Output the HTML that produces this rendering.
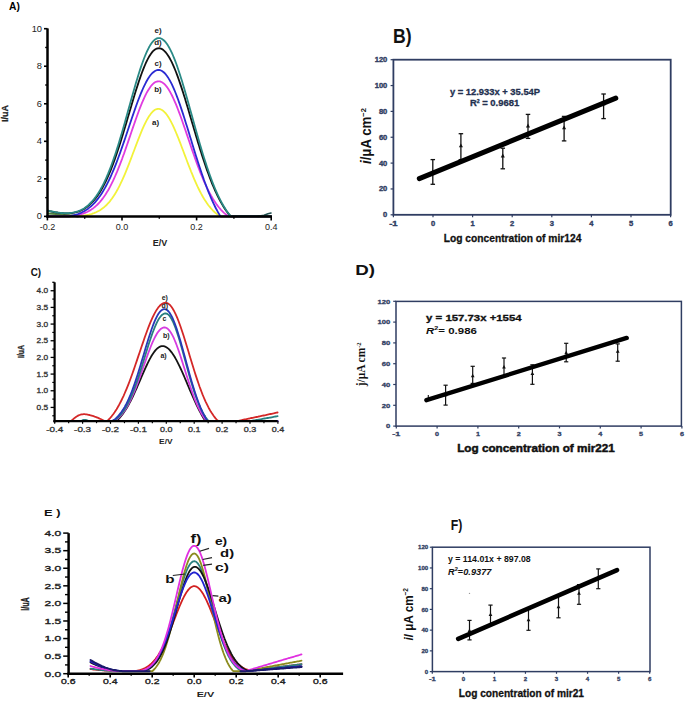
<!DOCTYPE html>
<html><head><meta charset="utf-8"><style>
html,body{margin:0;padding:0;background:#fff;}
body{width:685px;height:701px;overflow:hidden;}
svg{display:block;}
</style></head><body>
<svg width="685" height="701" viewBox="0 0 685 701">
<rect width="685" height="701" fill="#fff"/>
<text x="9.00" y="10.20" font-family="Liberation Sans" font-size="10.40" font-weight="bold" font-style="normal" text-anchor="start" fill="#000" textLength="10.80" lengthAdjust="spacingAndGlyphs" >A)</text>
<polyline points="48.0,213.4 56.0,214.1 64.0,214.9 72.0,215.6 78.0,216.4" fill="none" stroke="#4f7f3f" stroke-width="2.0" stroke-linejoin="round" stroke-linecap="round" />
<polyline points="48.0,216.4 49.0,216.4 50.0,216.4 51.0,216.4 52.0,216.4 53.0,216.4 54.0,216.4 55.0,216.4 56.0,216.4 57.0,216.4 58.0,216.4 59.0,216.4 60.0,216.4 61.0,216.4 62.0,216.4 63.0,216.4 64.0,216.4 65.0,216.4 66.0,216.4 67.0,216.4 68.0,216.4 69.0,216.4 70.0,216.4 71.0,216.3 72.0,216.3 73.0,216.3 74.0,216.2 75.0,216.2 76.0,216.1 77.0,216.1 78.0,216.0 79.0,216.0 80.0,215.9 81.0,215.8 82.0,215.7 83.0,215.6 84.0,215.4 85.0,215.3 86.0,215.1 87.0,215.0 88.0,214.8 89.0,214.6 90.0,214.3 91.0,214.1 92.0,213.8 93.0,213.4 94.0,213.1 95.0,212.7 96.0,212.3 97.0,211.8 98.0,211.3 99.0,210.8 100.0,210.2 101.0,209.5 102.0,208.8 103.0,208.1 104.0,207.3 105.0,206.4 106.0,205.5 107.0,204.5 108.0,203.4 109.0,202.3 110.0,201.1 111.0,199.8 112.0,198.5 113.0,197.0 114.0,195.5 115.0,193.9 116.0,192.3 117.0,190.5 118.0,188.7 119.0,186.8 120.0,184.8 121.0,182.7 122.0,180.6 123.0,178.4 124.0,176.1 125.0,173.8 126.0,171.4 127.0,168.9 128.0,166.4 129.0,163.9 130.0,161.3 131.0,158.6 132.0,156.0 133.0,153.3 134.0,150.7 135.0,148.0 136.0,145.4 137.0,142.7 138.0,140.1 139.0,137.6 140.0,135.1 141.0,132.6 142.0,130.2 143.0,127.9 144.0,125.7 145.0,123.6 146.0,121.6 147.0,119.7 148.0,118.0 149.0,116.3 150.0,114.9 151.0,113.5 152.0,112.3 153.0,111.3 154.0,110.5 155.0,109.8 156.0,109.3 157.0,109.0 158.0,108.9 159.0,108.9 160.0,109.1 161.0,109.5 162.0,110.0 163.0,110.7 164.0,111.6 165.0,112.6 166.0,113.7 167.0,115.1 168.0,116.5 169.0,118.1 170.0,119.8 171.0,121.7 172.0,123.7 173.0,125.7 174.0,127.9 175.0,130.1 176.0,132.5 177.0,134.9 178.0,137.3 179.0,139.9 180.0,142.4 181.0,145.0 182.0,147.7 183.0,150.3 184.0,153.0 185.0,155.6 186.0,158.3 187.0,161.0 188.0,163.6 189.0,166.2 190.0,168.7 191.0,171.3 192.0,173.7 193.0,176.2 194.0,178.6 195.0,180.9 196.0,183.1 197.0,185.3 198.0,187.5 199.0,189.5 200.0,191.5 201.0,193.4 202.0,195.2 203.0,197.0 204.0,198.7 205.0,200.3 206.0,201.8 207.0,203.3 208.0,204.7 209.0,206.0 210.0,207.2 211.0,208.4 212.0,209.5 213.0,210.6 214.0,211.5 215.0,212.5 216.0,213.3 217.0,214.1 218.0,214.9 219.0,215.6 220.0,216.2 221.0,216.4 222.0,216.4 223.0,216.4 224.0,216.4 225.0,216.4 226.0,216.4 227.0,216.4 228.0,216.4 229.0,216.4 230.0,216.4 231.0,216.4 232.0,216.4 233.0,216.4 234.0,216.4 235.0,216.4 236.0,216.4 237.0,216.4 238.0,216.4 239.0,216.4 240.0,216.4 241.0,216.4 242.0,216.4 243.0,216.4 244.0,216.4 245.0,216.4 246.0,216.4 247.0,216.4 248.0,216.4 249.0,216.4 250.0,216.4 251.0,216.4 252.0,216.4 253.0,216.4 254.0,216.4 255.0,216.4 256.0,216.4 257.0,216.4 258.0,216.4 259.0,216.4 260.0,216.4 261.0,216.4 262.0,216.4 263.0,216.4 264.0,216.4 265.0,216.4 266.0,216.4 267.0,216.4 268.0,216.4 269.0,216.4 270.0,216.4 271.0,216.4" fill="none" stroke="#f2f23a" stroke-width="1.8" stroke-linejoin="round" stroke-linecap="round" />
<polyline points="48.0,216.4 49.0,216.4 50.0,216.4 51.0,216.4 52.0,216.4 53.0,216.4 54.0,216.4 55.0,216.4 56.0,216.4 57.0,216.4 58.0,216.4 59.0,216.4 60.0,216.4 61.0,216.4 62.0,216.4 63.0,216.4 64.0,216.4 65.0,216.4 66.0,216.4 67.0,216.4 68.0,216.4 69.0,216.4 70.0,216.3 71.0,216.1 72.0,216.0 73.0,215.9 74.0,215.7 75.0,215.6 76.0,215.4 77.0,215.2 78.0,215.0 79.0,214.8 80.0,214.5 81.0,214.2 82.0,213.9 83.0,213.6 84.0,213.2 85.0,212.8 86.0,212.4 87.0,212.0 88.0,211.5 89.0,210.9 90.0,210.4 91.0,209.7 92.0,209.1 93.0,208.4 94.0,207.6 95.0,206.8 96.0,205.9 97.0,205.0 98.0,204.0 99.0,203.0 100.0,201.9 101.0,200.7 102.0,199.4 103.0,198.1 104.0,196.7 105.0,195.3 106.0,193.7 107.0,192.1 108.0,190.5 109.0,188.7 110.0,186.9 111.0,184.9 112.0,182.9 113.0,180.9 114.0,178.7 115.0,176.5 116.0,174.2 117.0,171.9 118.0,169.4 119.0,166.9 120.0,164.4 121.0,161.7 122.0,159.1 123.0,156.3 124.0,153.6 125.0,150.7 126.0,147.9 127.0,145.0 128.0,142.1 129.0,139.1 130.0,136.2 131.0,133.3 132.0,130.3 133.0,127.4 134.0,124.5 135.0,121.6 136.0,118.8 137.0,116.0 138.0,113.2 139.0,110.5 140.0,107.9 141.0,105.4 142.0,102.9 143.0,100.6 144.0,98.3 145.0,96.2 146.0,94.1 147.0,92.2 148.0,90.5 149.0,88.9 150.0,87.4 151.0,86.0 152.0,84.9 153.0,83.9 154.0,83.0 155.0,82.3 156.0,81.8 157.0,81.5 158.0,81.3 159.0,81.3 160.0,81.4 161.0,81.8 162.0,82.3 163.0,82.9 164.0,83.7 165.0,84.7 166.0,85.8 167.0,87.1 168.0,88.5 169.0,90.1 170.0,91.8 171.0,93.6 172.0,95.5 173.0,97.6 174.0,99.8 175.0,102.1 176.0,104.4 177.0,106.9 178.0,109.5 179.0,112.1 180.0,114.8 181.0,117.5 182.0,120.3 183.0,123.2 184.0,126.1 185.0,129.0 186.0,131.9 187.0,134.9 188.0,137.8 189.0,140.8 190.0,143.7 191.0,146.7 192.0,149.6 193.0,152.5 194.0,155.3 195.0,158.1 196.0,160.9 197.0,163.7 198.0,166.4 199.0,169.0 200.0,171.6 201.0,174.1 202.0,176.5 203.0,178.9 204.0,181.3 205.0,183.5 206.0,185.7 207.0,187.8 208.0,189.8 209.0,191.8 210.0,193.7 211.0,195.5 212.0,197.2 213.0,198.9 214.0,200.5 215.0,202.0 216.0,203.5 217.0,204.9 218.0,206.2 219.0,207.5 220.0,208.6 221.0,209.8 222.0,210.8 223.0,211.8 224.0,212.8 225.0,213.7 226.0,214.5 227.0,215.3 228.0,216.0 229.0,216.4 230.0,216.4 231.0,216.4 232.0,216.4 233.0,216.4 234.0,216.4 235.0,216.4 236.0,216.4 237.0,216.4 238.0,216.4 239.0,216.4 240.0,216.4 241.0,216.4 242.0,216.4 243.0,216.4 244.0,216.4 245.0,216.4 246.0,216.4 247.0,216.4 248.0,216.4 249.0,216.4 250.0,216.4 251.0,216.4 252.0,216.4 253.0,216.4 254.0,216.4 255.0,216.4 256.0,216.4 257.0,216.4 258.0,216.4 259.0,216.4 260.0,216.4 261.0,216.4 262.0,216.4 263.0,216.4 264.0,216.4 265.0,216.4 266.0,216.4 267.0,216.4 268.0,216.4 269.0,216.4 270.0,216.4 271.0,216.4" fill="none" stroke="#e03ce0" stroke-width="1.8" stroke-linejoin="round" stroke-linecap="round" />
<polyline points="48.0,216.4 49.0,216.4 50.0,216.4 51.0,216.4 52.0,216.4 53.0,216.4 54.0,216.4 55.0,216.4 56.0,216.4 57.0,216.4 58.0,216.4 59.0,216.4 60.0,216.4 61.0,216.4 62.0,216.4 63.0,216.4 64.0,216.4 65.0,216.4 66.0,216.4 67.0,216.4 68.0,216.4 69.0,216.3 70.0,216.1 71.0,215.9 72.0,215.7 73.0,215.5 74.0,215.2 75.0,215.0 76.0,214.7 77.0,214.3 78.0,214.0 79.0,213.6 80.0,213.2 81.0,212.8 82.0,212.3 83.0,211.8 84.0,211.3 85.0,210.7 86.0,210.1 87.0,209.4 88.0,208.7 89.0,207.9 90.0,207.1 91.0,206.3 92.0,205.4 93.0,204.4 94.0,203.4 95.0,202.3 96.0,201.1 97.0,199.9 98.0,198.7 99.0,197.3 100.0,195.9 101.0,194.5 102.0,192.9 103.0,191.3 104.0,189.6 105.0,187.9 106.0,186.0 107.0,184.1 108.0,182.1 109.0,180.1 110.0,178.0 111.0,175.8 112.0,173.5 113.0,171.2 114.0,168.8 115.0,166.3 116.0,163.8 117.0,161.2 118.0,158.5 119.0,155.8 120.0,153.1 121.0,150.3 122.0,147.4 123.0,144.5 124.0,141.6 125.0,138.7 126.0,135.7 127.0,132.7 128.0,129.7 129.0,126.8 130.0,123.8 131.0,120.8 132.0,117.8 133.0,114.9 134.0,112.0 135.0,109.1 136.0,106.3 137.0,103.5 138.0,100.8 139.0,98.2 140.0,95.6 141.0,93.2 142.0,90.8 143.0,88.5 144.0,86.3 145.0,84.3 146.0,82.3 147.0,80.5 148.0,78.8 149.0,77.2 150.0,75.8 151.0,74.5 152.0,73.4 153.0,72.5 154.0,71.7 155.0,71.0 156.0,70.5 157.0,70.2 158.0,70.0 159.0,70.0 160.0,70.2 161.0,70.5 162.0,71.0 163.0,71.7 164.0,72.5 165.0,73.5 166.0,74.7 167.0,76.0 168.0,77.4 169.0,79.1 170.0,80.8 171.0,82.7 172.0,84.7 173.0,86.9 174.0,89.1 175.0,91.5 176.0,94.0 177.0,96.6 178.0,99.3 179.0,102.1 180.0,104.9 181.0,107.9 182.0,110.9 183.0,113.9 184.0,117.0 185.0,120.2 186.0,123.4 187.0,126.6 188.0,129.8 189.0,133.1 190.0,136.4 191.0,139.6 192.0,142.9 193.0,146.2 194.0,149.4 195.0,152.7 196.0,155.9 197.0,159.0 198.0,162.2 199.0,165.3 200.0,168.3 201.0,171.3 202.0,174.2 203.0,177.1 204.0,180.0 205.0,182.7 206.0,185.4 207.0,188.0 208.0,190.6 209.0,193.1 210.0,195.5 211.0,197.9 212.0,200.1 213.0,202.3 214.0,204.4 215.0,206.5 216.0,208.5 217.0,210.3 218.0,212.2 219.0,213.9 220.0,215.6 221.0,216.4 222.0,216.4 223.0,216.4 224.0,216.4 225.0,216.4 226.0,216.4 227.0,216.4 228.0,216.4 229.0,216.4 230.0,216.4 231.0,216.4 232.0,216.4 233.0,216.4 234.0,216.4 235.0,216.4 236.0,216.4 237.0,216.4 238.0,216.4 239.0,216.4 240.0,216.4 241.0,216.4 242.0,216.4 243.0,216.4 244.0,216.4 245.0,216.4 246.0,216.4 247.0,216.4 248.0,216.4 249.0,216.4 250.0,216.4 251.0,216.4 252.0,216.4 253.0,216.4 254.0,216.4 255.0,216.4 256.0,216.4 257.0,216.4 258.0,216.4 259.0,216.4 260.0,216.4 261.0,216.4 262.0,216.4 263.0,216.4 264.0,216.4 265.0,216.4 266.0,216.4 267.0,216.4 268.0,216.4 269.0,216.4 270.0,216.4 271.0,216.4" fill="none" stroke="#2a2ad2" stroke-width="1.8" stroke-linejoin="round" stroke-linecap="round" />
<polyline points="48.0,210.6 49.0,210.8 50.0,211.1 51.0,211.3 52.0,211.6 53.0,211.8 54.0,212.0 55.0,212.2 56.0,212.3 57.0,212.5 58.0,212.7 59.0,212.8 60.0,212.9 61.0,213.0 62.0,213.1 63.0,213.2 64.0,213.3 65.0,213.3 66.0,213.3 67.0,213.3 68.0,213.3 69.0,213.3 70.0,213.2 71.0,213.1 72.0,213.0 73.0,212.8 74.0,212.7 75.0,212.5 76.0,212.2 77.0,212.0 78.0,211.6 79.0,211.3 80.0,210.9 81.0,210.5 82.0,210.0 83.0,209.5 84.0,208.9 85.0,208.3 86.0,207.6 87.0,206.9 88.0,206.1 89.0,205.3 90.0,204.4 91.0,203.4 92.0,202.4 93.0,201.4 94.0,200.2 95.0,199.0 96.0,197.7 97.0,196.4 98.0,195.0 99.0,193.5 100.0,191.9 101.0,190.3 102.0,188.5 103.0,186.7 104.0,184.8 105.0,182.9 106.0,180.8 107.0,178.7 108.0,176.5 109.0,174.2 110.0,171.8 111.0,169.3 112.0,166.7 113.0,164.1 114.0,161.4 115.0,158.6 116.0,155.7 117.0,152.8 118.0,149.8 119.0,146.7 120.0,143.6 121.0,140.4 122.0,137.2 123.0,133.9 124.0,130.6 125.0,127.3 126.0,123.9 127.0,120.5 128.0,117.1 129.0,113.7 130.0,110.3 131.0,106.9 132.0,103.5 133.0,100.2 134.0,96.8 135.0,93.6 136.0,90.3 137.0,87.2 138.0,84.1 139.0,81.0 140.0,78.1 141.0,75.3 142.0,72.5 143.0,69.9 144.0,67.4 145.0,65.0 146.0,62.7 147.0,60.6 148.0,58.7 149.0,56.8 150.0,55.2 151.0,53.7 152.0,52.4 153.0,51.2 154.0,50.3 155.0,49.5 156.0,48.9 157.0,48.5 158.0,48.3 159.0,48.2 160.0,48.4 161.0,48.7 162.0,49.1 163.0,49.8 164.0,50.6 165.0,51.6 166.0,52.7 167.0,54.0 168.0,55.4 169.0,57.0 170.0,58.8 171.0,60.7 172.0,62.7 173.0,64.8 174.0,67.1 175.0,69.5 176.0,72.0 177.0,74.6 178.0,77.4 179.0,80.2 180.0,83.1 181.0,86.1 182.0,89.1 183.0,92.2 184.0,95.4 185.0,98.6 186.0,101.9 187.0,105.2 188.0,108.6 189.0,112.0 190.0,115.4 191.0,118.8 192.0,122.2 193.0,125.6 194.0,129.0 195.0,132.3 196.0,135.7 197.0,139.0 198.0,142.4 199.0,145.6 200.0,148.9 201.0,152.0 202.0,155.2 203.0,158.3 204.0,161.3 205.0,164.3 206.0,167.2 207.0,170.1 208.0,172.8 209.0,175.5 210.0,178.2 211.0,180.8 212.0,183.3 213.0,185.7 214.0,188.0 215.0,190.3 216.0,192.5 217.0,194.6 218.0,196.7 219.0,198.6 220.0,200.5 221.0,202.4 222.0,204.1 223.0,205.8 224.0,207.4 225.0,208.9 226.0,210.4 227.0,211.8 228.0,213.1 229.0,214.4 230.0,215.6 231.0,216.4 232.0,216.4 233.0,216.4 234.0,216.4 235.0,216.4 236.0,216.4 237.0,216.4 238.0,216.4 239.0,216.4 240.0,216.4 241.0,216.4 242.0,216.4 243.0,216.4 244.0,216.4 245.0,216.4 246.0,216.4 247.0,216.4 248.0,216.4 249.0,216.4 250.0,216.4 251.0,216.4 252.0,216.4 253.0,216.4 254.0,216.4 255.0,216.4 256.0,216.4 257.0,216.4 258.0,216.4 259.0,216.4 260.0,216.4 261.0,216.4 262.0,216.4 263.0,216.4 264.0,216.4 265.0,216.4 266.0,216.4 267.0,216.4 268.0,216.4 269.0,216.4 270.0,216.4 271.0,216.4" fill="none" stroke="#111111" stroke-width="1.8" stroke-linejoin="round" stroke-linecap="round" />
<polyline points="48.0,210.6 49.0,210.8 50.0,211.1 51.0,211.3 52.0,211.5 53.0,211.7 54.0,211.9 55.0,212.1 56.0,212.3 57.0,212.5 58.0,212.6 59.0,212.7 60.0,212.9 61.0,213.0 62.0,213.0 63.0,213.1 64.0,213.2 65.0,213.2 66.0,213.2 67.0,213.2 68.0,213.2 69.0,213.1 70.0,213.0 71.0,212.9 72.0,212.8 73.0,212.6 74.0,212.4 75.0,212.2 76.0,211.9 77.0,211.6 78.0,211.3 79.0,210.9 80.0,210.5 81.0,210.1 82.0,209.5 83.0,209.0 84.0,208.4 85.0,207.7 86.0,207.0 87.0,206.2 88.0,205.4 89.0,204.5 90.0,203.5 91.0,202.5 92.0,201.5 93.0,200.3 94.0,199.1 95.0,197.8 96.0,196.5 97.0,195.0 98.0,193.5 99.0,191.9 100.0,190.3 101.0,188.5 102.0,186.7 103.0,184.8 104.0,182.8 105.0,180.7 106.0,178.5 107.0,176.2 108.0,173.9 109.0,171.4 110.0,168.9 111.0,166.3 112.0,163.6 113.0,160.8 114.0,157.9 115.0,155.0 116.0,152.0 117.0,148.9 118.0,145.7 119.0,142.4 120.0,139.1 121.0,135.8 122.0,132.4 123.0,128.9 124.0,125.4 125.0,121.9 126.0,118.3 127.0,114.7 128.0,111.1 129.0,107.5 130.0,103.9 131.0,100.3 132.0,96.8 133.0,93.2 134.0,89.7 135.0,86.2 136.0,82.8 137.0,79.5 138.0,76.2 139.0,73.0 140.0,69.9 141.0,66.9 142.0,64.0 143.0,61.2 144.0,58.5 145.0,56.0 146.0,53.6 147.0,51.4 148.0,49.3 149.0,47.3 150.0,45.6 151.0,44.0 152.0,42.6 153.0,41.4 154.0,40.4 155.0,39.5 156.0,38.9 157.0,38.4 158.0,38.1 159.0,38.1 160.0,38.2 161.0,38.5 162.0,39.0 163.0,39.7 164.0,40.5 165.0,41.5 166.0,42.7 167.0,44.1 168.0,45.6 169.0,47.3 170.0,49.1 171.0,51.1 172.0,53.2 173.0,55.5 174.0,57.9 175.0,60.4 176.0,63.0 177.0,65.8 178.0,68.7 179.0,71.7 180.0,74.7 181.0,77.9 182.0,81.1 183.0,84.4 184.0,87.8 185.0,91.2 186.0,94.7 187.0,98.2 188.0,101.7 189.0,105.3 190.0,108.9 191.0,112.5 192.0,116.1 193.0,119.7 194.0,123.3 195.0,126.9 196.0,130.5 197.0,134.0 198.0,137.5 199.0,141.0 200.0,144.4 201.0,147.8 202.0,151.2 203.0,154.5 204.0,157.7 205.0,160.8 206.0,163.9 207.0,167.0 208.0,169.9 209.0,172.8 210.0,175.6 211.0,178.3 212.0,181.0 213.0,183.6 214.0,186.1 215.0,188.5 216.0,190.8 217.0,193.1 218.0,195.3 219.0,197.4 220.0,199.4 221.0,201.3 222.0,203.2 223.0,205.0 224.0,206.7 225.0,208.3 226.0,209.9 227.0,211.4 228.0,212.8 229.0,214.1 230.0,215.4 231.0,216.4 232.0,216.4 233.0,216.4 234.0,216.4 235.0,216.4 236.0,216.4 237.0,216.4 238.0,216.4 239.0,216.4 240.0,216.4 241.0,216.4 242.0,216.4 243.0,216.4 244.0,216.4 245.0,216.4 246.0,216.4 247.0,216.4 248.0,216.4 249.0,216.4 250.0,216.4 251.0,216.4 252.0,216.4 253.0,216.4 254.0,216.4 255.0,216.4 256.0,216.4 257.0,216.4 258.0,216.4 259.0,216.4 260.0,216.4 261.0,216.4 262.0,216.4 263.0,216.4 264.0,216.4 265.0,216.4 266.0,216.4 267.0,216.4 268.0,216.4 269.0,216.4 270.0,216.4 271.0,216.4" fill="none" stroke="#2a8a86" stroke-width="1.8" stroke-linejoin="round" stroke-linecap="round" />
<polyline points="258.0,216.4 264.0,215.3 268.0,213.8 271.0,213.0" fill="none" stroke="#1f4f4f" stroke-width="1.6" stroke-linejoin="round" stroke-linecap="round" />
<line x1="47.50" y1="28.40" x2="47.50" y2="217.60" stroke="#000" stroke-width="2.5" stroke-linecap="butt"/>
<line x1="46.30" y1="216.40" x2="271.90" y2="216.40" stroke="#000" stroke-width="2.5" stroke-linecap="butt"/>
<line x1="44.00" y1="216.40" x2="47.50" y2="216.40" stroke="#000" stroke-width="1.6" stroke-linecap="butt"/>
<text x="42.00" y="219.30" font-family="Liberation Sans" font-size="9.30" font-weight="normal" font-style="normal" text-anchor="end" fill="#222" >0</text>
<line x1="45.20" y1="197.63" x2="47.50" y2="197.63" stroke="#000" stroke-width="1.4" stroke-linecap="butt"/>
<line x1="44.00" y1="178.86" x2="47.50" y2="178.86" stroke="#000" stroke-width="1.6" stroke-linecap="butt"/>
<text x="42.00" y="181.76" font-family="Liberation Sans" font-size="9.30" font-weight="normal" font-style="normal" text-anchor="end" fill="#222" >2</text>
<line x1="45.20" y1="160.09" x2="47.50" y2="160.09" stroke="#000" stroke-width="1.4" stroke-linecap="butt"/>
<line x1="44.00" y1="141.32" x2="47.50" y2="141.32" stroke="#000" stroke-width="1.6" stroke-linecap="butt"/>
<text x="42.00" y="144.22" font-family="Liberation Sans" font-size="9.30" font-weight="normal" font-style="normal" text-anchor="end" fill="#222" >4</text>
<line x1="45.20" y1="122.55" x2="47.50" y2="122.55" stroke="#000" stroke-width="1.4" stroke-linecap="butt"/>
<line x1="44.00" y1="103.78" x2="47.50" y2="103.78" stroke="#000" stroke-width="1.6" stroke-linecap="butt"/>
<text x="42.00" y="106.68" font-family="Liberation Sans" font-size="9.30" font-weight="normal" font-style="normal" text-anchor="end" fill="#222" >6</text>
<line x1="45.20" y1="85.01" x2="47.50" y2="85.01" stroke="#000" stroke-width="1.4" stroke-linecap="butt"/>
<line x1="44.00" y1="66.24" x2="47.50" y2="66.24" stroke="#000" stroke-width="1.6" stroke-linecap="butt"/>
<text x="42.00" y="69.14" font-family="Liberation Sans" font-size="9.30" font-weight="normal" font-style="normal" text-anchor="end" fill="#222" >8</text>
<line x1="45.20" y1="47.47" x2="47.50" y2="47.47" stroke="#000" stroke-width="1.4" stroke-linecap="butt"/>
<line x1="44.00" y1="28.70" x2="47.50" y2="28.70" stroke="#000" stroke-width="1.6" stroke-linecap="butt"/>
<text x="42.00" y="31.60" font-family="Liberation Sans" font-size="9.30" font-weight="normal" font-style="normal" text-anchor="end" fill="#222" >10</text>
<line x1="47.40" y1="216.40" x2="47.40" y2="220.40" stroke="#000" stroke-width="1.6" stroke-linecap="butt"/>
<text x="47.40" y="230.10" font-family="Liberation Sans" font-size="9.00" font-weight="normal" font-style="normal" text-anchor="middle" fill="#222" >-0.2</text>
<line x1="84.70" y1="216.40" x2="84.70" y2="218.70" stroke="#000" stroke-width="1.4" stroke-linecap="butt"/>
<line x1="122.00" y1="216.40" x2="122.00" y2="220.40" stroke="#000" stroke-width="1.6" stroke-linecap="butt"/>
<text x="122.00" y="230.10" font-family="Liberation Sans" font-size="9.00" font-weight="normal" font-style="normal" text-anchor="middle" fill="#222" >0.0</text>
<line x1="159.30" y1="216.40" x2="159.30" y2="218.70" stroke="#000" stroke-width="1.4" stroke-linecap="butt"/>
<line x1="196.60" y1="216.40" x2="196.60" y2="220.40" stroke="#000" stroke-width="1.6" stroke-linecap="butt"/>
<text x="196.60" y="230.10" font-family="Liberation Sans" font-size="9.00" font-weight="normal" font-style="normal" text-anchor="middle" fill="#222" >0.2</text>
<line x1="233.90" y1="216.40" x2="233.90" y2="218.70" stroke="#000" stroke-width="1.4" stroke-linecap="butt"/>
<line x1="271.20" y1="216.40" x2="271.20" y2="220.40" stroke="#000" stroke-width="1.6" stroke-linecap="butt"/>
<text x="271.20" y="230.10" font-family="Liberation Sans" font-size="9.00" font-weight="normal" font-style="normal" text-anchor="middle" fill="#222" >0.4</text>
<text x="160.00" y="245.80" font-family="Liberation Sans" font-size="9.00" font-weight="bold" font-style="normal" text-anchor="middle" fill="#222" >E/V</text>
<g transform="translate(7.9,113.6) rotate(-90)">
<text x="0.00" y="0.00" font-family="Liberation Sans" font-size="9.00" font-weight="bold" font-style="normal" text-anchor="middle" fill="#222" textLength="17.00" lengthAdjust="spacingAndGlyphs" stroke="#222" stroke-width="0.3">I/uA</text>
</g>
<text x="158.00" y="32.60" font-family="Liberation Sans" font-size="8.00" font-weight="bold" font-style="normal" text-anchor="middle" fill="#222" >e)</text>
<text x="158.00" y="44.60" font-family="Liberation Sans" font-size="8.00" font-weight="bold" font-style="normal" text-anchor="middle" fill="#222" >d)</text>
<text x="158.00" y="66.40" font-family="Liberation Sans" font-size="8.00" font-weight="bold" font-style="normal" text-anchor="middle" fill="#222" >c)</text>
<text x="158.00" y="91.60" font-family="Liberation Sans" font-size="8.00" font-weight="bold" font-style="normal" text-anchor="middle" fill="#222" >b)</text>
<text x="155.50" y="125.40" font-family="Liberation Sans" font-size="8.00" font-weight="bold" font-style="normal" text-anchor="middle" fill="#222" >a)</text>
<text x="393.00" y="43.00" font-family="Liberation Sans" font-size="19.50" font-weight="bold" font-style="normal" text-anchor="start" fill="#111" textLength="18.60" lengthAdjust="spacingAndGlyphs" >B)</text>
<rect x="393.4" y="59.7" width="277.3" height="155.1" fill="none" stroke="#2f3d62" stroke-width="1.8"/>
<line x1="390.60" y1="214.80" x2="393.40" y2="214.80" stroke="#2f3d62" stroke-width="1.2" stroke-linecap="butt"/>
<text x="387.30" y="217.20" font-family="Liberation Sans" font-size="6.80" font-weight="bold" font-style="normal" text-anchor="end" fill="#2f3d62" textLength="4.20" lengthAdjust="spacingAndGlyphs" stroke="#2f3d62" stroke-width="0.35">0</text>
<line x1="390.60" y1="188.95" x2="393.40" y2="188.95" stroke="#2f3d62" stroke-width="1.2" stroke-linecap="butt"/>
<text x="387.30" y="191.35" font-family="Liberation Sans" font-size="6.80" font-weight="bold" font-style="normal" text-anchor="end" fill="#2f3d62" textLength="8.40" lengthAdjust="spacingAndGlyphs" stroke="#2f3d62" stroke-width="0.35">20</text>
<line x1="390.60" y1="163.10" x2="393.40" y2="163.10" stroke="#2f3d62" stroke-width="1.2" stroke-linecap="butt"/>
<text x="387.30" y="165.50" font-family="Liberation Sans" font-size="6.80" font-weight="bold" font-style="normal" text-anchor="end" fill="#2f3d62" textLength="8.40" lengthAdjust="spacingAndGlyphs" stroke="#2f3d62" stroke-width="0.35">40</text>
<line x1="390.60" y1="137.25" x2="393.40" y2="137.25" stroke="#2f3d62" stroke-width="1.2" stroke-linecap="butt"/>
<text x="387.30" y="139.65" font-family="Liberation Sans" font-size="6.80" font-weight="bold" font-style="normal" text-anchor="end" fill="#2f3d62" textLength="8.40" lengthAdjust="spacingAndGlyphs" stroke="#2f3d62" stroke-width="0.35">60</text>
<line x1="390.60" y1="111.40" x2="393.40" y2="111.40" stroke="#2f3d62" stroke-width="1.2" stroke-linecap="butt"/>
<text x="387.30" y="113.80" font-family="Liberation Sans" font-size="6.80" font-weight="bold" font-style="normal" text-anchor="end" fill="#2f3d62" textLength="8.40" lengthAdjust="spacingAndGlyphs" stroke="#2f3d62" stroke-width="0.35">80</text>
<line x1="390.60" y1="85.55" x2="393.40" y2="85.55" stroke="#2f3d62" stroke-width="1.2" stroke-linecap="butt"/>
<text x="387.30" y="87.95" font-family="Liberation Sans" font-size="6.80" font-weight="bold" font-style="normal" text-anchor="end" fill="#2f3d62" textLength="12.60" lengthAdjust="spacingAndGlyphs" stroke="#2f3d62" stroke-width="0.35">100</text>
<line x1="390.60" y1="59.70" x2="393.40" y2="59.70" stroke="#2f3d62" stroke-width="1.2" stroke-linecap="butt"/>
<text x="387.30" y="62.10" font-family="Liberation Sans" font-size="6.80" font-weight="bold" font-style="normal" text-anchor="end" fill="#2f3d62" textLength="12.60" lengthAdjust="spacingAndGlyphs" stroke="#2f3d62" stroke-width="0.35">120</text>
<line x1="393.40" y1="214.80" x2="393.40" y2="217.20" stroke="#2f3d62" stroke-width="1.2" stroke-linecap="butt"/>
<text x="393.40" y="226.00" font-family="Liberation Sans" font-size="6.80" font-weight="bold" font-style="normal" text-anchor="middle" fill="#2f3d62" textLength="8.40" lengthAdjust="spacingAndGlyphs" stroke="#2f3d62" stroke-width="0.35">-1</text>
<line x1="433.00" y1="214.80" x2="433.00" y2="217.20" stroke="#2f3d62" stroke-width="1.2" stroke-linecap="butt"/>
<text x="433.00" y="226.00" font-family="Liberation Sans" font-size="6.80" font-weight="bold" font-style="normal" text-anchor="middle" fill="#2f3d62" textLength="4.20" lengthAdjust="spacingAndGlyphs" stroke="#2f3d62" stroke-width="0.35">0</text>
<line x1="472.60" y1="214.80" x2="472.60" y2="217.20" stroke="#2f3d62" stroke-width="1.2" stroke-linecap="butt"/>
<text x="472.60" y="226.00" font-family="Liberation Sans" font-size="6.80" font-weight="bold" font-style="normal" text-anchor="middle" fill="#2f3d62" textLength="4.20" lengthAdjust="spacingAndGlyphs" stroke="#2f3d62" stroke-width="0.35">1</text>
<line x1="512.20" y1="214.80" x2="512.20" y2="217.20" stroke="#2f3d62" stroke-width="1.2" stroke-linecap="butt"/>
<text x="512.20" y="226.00" font-family="Liberation Sans" font-size="6.80" font-weight="bold" font-style="normal" text-anchor="middle" fill="#2f3d62" textLength="4.20" lengthAdjust="spacingAndGlyphs" stroke="#2f3d62" stroke-width="0.35">2</text>
<line x1="551.80" y1="214.80" x2="551.80" y2="217.20" stroke="#2f3d62" stroke-width="1.2" stroke-linecap="butt"/>
<text x="551.80" y="226.00" font-family="Liberation Sans" font-size="6.80" font-weight="bold" font-style="normal" text-anchor="middle" fill="#2f3d62" textLength="4.20" lengthAdjust="spacingAndGlyphs" stroke="#2f3d62" stroke-width="0.35">3</text>
<line x1="591.40" y1="214.80" x2="591.40" y2="217.20" stroke="#2f3d62" stroke-width="1.2" stroke-linecap="butt"/>
<text x="591.40" y="226.00" font-family="Liberation Sans" font-size="6.80" font-weight="bold" font-style="normal" text-anchor="middle" fill="#2f3d62" textLength="4.20" lengthAdjust="spacingAndGlyphs" stroke="#2f3d62" stroke-width="0.35">4</text>
<line x1="631.00" y1="214.80" x2="631.00" y2="217.20" stroke="#2f3d62" stroke-width="1.2" stroke-linecap="butt"/>
<text x="631.00" y="226.00" font-family="Liberation Sans" font-size="6.80" font-weight="bold" font-style="normal" text-anchor="middle" fill="#2f3d62" textLength="4.20" lengthAdjust="spacingAndGlyphs" stroke="#2f3d62" stroke-width="0.35">5</text>
<line x1="670.60" y1="214.80" x2="670.60" y2="217.20" stroke="#2f3d62" stroke-width="1.2" stroke-linecap="butt"/>
<text x="670.60" y="226.00" font-family="Liberation Sans" font-size="6.80" font-weight="bold" font-style="normal" text-anchor="middle" fill="#2f3d62" textLength="4.20" lengthAdjust="spacingAndGlyphs" stroke="#2f3d62" stroke-width="0.35">6</text>
<text x="443.70" y="242.20" font-family="Liberation Sans" font-size="11.20" font-weight="bold" font-style="normal" text-anchor="start" fill="#111" textLength="137.70" lengthAdjust="spacingAndGlyphs" stroke="#111" stroke-width="0.3">Log concentration of mir124</text>
<g transform="translate(371.2,136) rotate(-90)">
<text x="0" y="0" font-family="Liberation Sans" font-size="14" font-weight="bold" text-anchor="middle" fill="#111" textLength="56" lengthAdjust="spacingAndGlyphs"><tspan font-style="italic">i</tspan>/μA cm<tspan font-size="8" dy="-5">−2</tspan></text>
</g>
<text x="449.90" y="94.90" font-family="Liberation Sans" font-size="9.20" font-weight="bold" font-style="normal" text-anchor="start" fill="#23304f" textLength="90.20" lengthAdjust="spacingAndGlyphs" stroke="#23304f" stroke-width="0.3">y = 12.933x + 35.54P</text>
<text x="469.9" y="106.2" font-family="Liberation Sans" font-size="9.2" font-weight="bold" fill="#23304f" stroke="#23304f" stroke-width="0.3" textLength="49.3" lengthAdjust="spacingAndGlyphs">R<tspan font-size="5" dy="-3.5">2</tspan><tspan dy="3.5"> = 0.9681</tspan></text>
<line x1="432.80" y1="159.60" x2="432.80" y2="184.30" stroke="#111" stroke-width="1.3" stroke-linecap="butt"/>
<line x1="430.55" y1="159.60" x2="435.05" y2="159.60" stroke="#111" stroke-width="1.3" stroke-linecap="butt"/>
<line x1="430.55" y1="184.30" x2="435.05" y2="184.30" stroke="#111" stroke-width="1.3" stroke-linecap="butt"/>
<polygon points="432.80,169.60 430.76,173.44 434.84,173.44" fill="#111"/>
<line x1="460.90" y1="133.70" x2="460.90" y2="159.60" stroke="#111" stroke-width="1.3" stroke-linecap="butt"/>
<line x1="458.65" y1="133.70" x2="463.15" y2="133.70" stroke="#111" stroke-width="1.3" stroke-linecap="butt"/>
<line x1="458.65" y1="159.60" x2="463.15" y2="159.60" stroke="#111" stroke-width="1.3" stroke-linecap="butt"/>
<polygon points="460.90,143.40 458.86,147.24 462.94,147.24" fill="#111"/>
<line x1="502.80" y1="148.20" x2="502.80" y2="168.80" stroke="#111" stroke-width="1.3" stroke-linecap="butt"/>
<line x1="500.55" y1="148.20" x2="505.05" y2="148.20" stroke="#111" stroke-width="1.3" stroke-linecap="butt"/>
<line x1="500.55" y1="168.80" x2="505.05" y2="168.80" stroke="#111" stroke-width="1.3" stroke-linecap="butt"/>
<polygon points="502.80,153.60 500.76,157.44 504.84,157.44" fill="#111"/>
<line x1="528.00" y1="114.40" x2="528.00" y2="138.40" stroke="#111" stroke-width="1.3" stroke-linecap="butt"/>
<line x1="525.75" y1="114.40" x2="530.25" y2="114.40" stroke="#111" stroke-width="1.3" stroke-linecap="butt"/>
<line x1="525.75" y1="138.40" x2="530.25" y2="138.40" stroke="#111" stroke-width="1.3" stroke-linecap="butt"/>
<polygon points="528.00,123.60 525.96,127.44 530.04,127.44" fill="#111"/>
<line x1="564.10" y1="116.40" x2="564.10" y2="140.90" stroke="#111" stroke-width="1.3" stroke-linecap="butt"/>
<line x1="561.85" y1="116.40" x2="566.35" y2="116.40" stroke="#111" stroke-width="1.3" stroke-linecap="butt"/>
<line x1="561.85" y1="140.90" x2="566.35" y2="140.90" stroke="#111" stroke-width="1.3" stroke-linecap="butt"/>
<polygon points="564.10,125.40 562.06,129.24 566.14,129.24" fill="#111"/>
<line x1="603.60" y1="94.00" x2="603.60" y2="118.60" stroke="#111" stroke-width="1.3" stroke-linecap="butt"/>
<line x1="601.35" y1="94.00" x2="605.85" y2="94.00" stroke="#111" stroke-width="1.3" stroke-linecap="butt"/>
<line x1="601.35" y1="118.60" x2="605.85" y2="118.60" stroke="#111" stroke-width="1.3" stroke-linecap="butt"/>
<polygon points="603.60,101.50 601.56,105.34 605.64,105.34" fill="#111"/>
<line x1="419.30" y1="178.60" x2="615.80" y2="98.10" stroke="#000" stroke-width="5.0" stroke-linecap="round"/>
<text x="30.70" y="275.80" font-family="Liberation Sans" font-size="11.20" font-weight="bold" font-style="normal" text-anchor="start" fill="#111" textLength="10.40" lengthAdjust="spacingAndGlyphs" >C)</text>
<polyline points="54.6,421.2 55.6,421.2 56.6,421.2 57.6,421.2 58.6,421.2 59.6,421.2 60.6,421.2 61.6,421.2 62.6,421.2 63.6,421.2 64.6,421.2 65.6,421.2 66.6,421.2 67.6,421.2 68.6,421.2 69.6,421.2 70.6,421.2 71.6,421.2 72.6,421.2 73.6,421.2 74.6,421.2 75.6,421.2 76.6,421.2 77.6,421.2 78.6,421.2 79.6,421.2 80.6,421.2 81.6,421.2 82.6,421.2 83.6,421.2 84.6,421.2 85.6,421.2 86.6,421.2 87.6,421.2 88.6,421.2 89.6,421.2 90.6,421.2 91.6,421.2 92.6,421.2 93.6,421.2 94.6,421.2 95.6,421.2 96.6,421.2 97.6,421.2 98.6,421.2 99.6,421.2 100.6,421.2 101.6,421.2 102.6,421.2 103.6,421.2 104.6,421.2 105.6,421.2 106.6,421.2 107.6,421.2 108.6,421.2 109.6,421.2 110.6,421.2 111.6,421.2 112.6,421.2 113.6,421.2 114.6,421.2 115.6,421.2 116.6,420.9 117.6,420.0 118.6,419.0 119.6,417.9 120.6,416.7 121.6,415.5 122.6,414.2 123.6,412.8 124.6,411.3 125.6,409.8 126.6,408.2 127.6,406.5 128.6,404.7 129.6,402.9 130.6,401.0 131.6,399.0 132.6,397.0 133.6,394.9 134.6,392.7 135.6,390.5 136.6,388.3 137.6,386.0 138.6,383.7 139.6,381.4 140.6,379.1 141.6,376.7 142.6,374.4 143.6,372.1 144.6,369.9 145.6,367.6 146.6,365.5 147.6,363.4 148.6,361.4 149.6,359.4 150.6,357.6 151.6,355.8 152.6,354.2 153.6,352.7 154.6,351.4 155.6,350.1 156.6,349.1 157.6,348.2 158.6,347.4 159.6,346.8 160.6,346.4 161.6,346.2 162.6,346.1 163.6,346.2 164.6,346.4 165.6,346.8 166.6,347.4 167.6,348.1 168.6,348.9 169.6,349.9 170.6,351.1 171.6,352.3 172.6,353.7 173.6,355.2 174.6,356.8 175.6,358.6 176.6,360.4 177.6,362.3 178.6,364.3 179.6,366.4 180.6,368.5 181.6,370.7 182.6,372.9 183.6,375.2 184.6,377.5 185.6,379.9 186.6,382.2 187.6,384.6 188.6,386.9 189.6,389.3 190.6,391.6 191.6,393.9 192.6,396.2 193.6,398.5 194.6,400.7 195.6,402.9 196.6,405.0 197.6,407.0 198.6,409.1 199.6,411.0 200.6,412.9 201.6,414.7 202.6,416.5 203.6,418.2 204.6,419.8 205.6,421.2 206.6,421.2 207.6,421.2 208.6,421.2 209.6,421.2 210.6,421.2 211.6,421.2 212.6,421.2 213.6,421.2 214.6,421.2 215.6,421.2 216.6,421.2 217.6,421.2 218.6,421.2 219.6,421.2 220.6,421.2 221.6,421.2 222.6,421.2 223.6,421.2 224.6,421.2 225.6,421.2 226.6,421.2 227.6,421.2 228.6,421.2 229.6,421.2 230.6,421.2 231.6,421.2 232.6,421.2 233.6,421.2 234.6,421.2 235.6,421.2 236.6,421.2 237.6,421.2 238.6,421.2 239.6,421.2 240.6,421.2 241.6,421.2 242.6,421.2 243.6,421.2 244.6,421.2 245.6,421.2 246.6,421.2 247.6,421.2 248.6,421.2 249.6,421.2 250.6,421.2 251.6,421.2 252.6,421.2 253.6,421.2 254.6,421.2 255.6,421.2 256.6,421.2 257.6,421.2 258.6,421.2 259.6,421.2 260.6,421.2 261.6,421.2 262.6,421.2 263.6,421.2 264.6,421.2 265.6,421.2 266.6,421.2 267.6,421.2 268.6,421.2 269.6,421.2 270.6,421.2 271.6,421.2 272.6,421.2 273.6,421.2 274.6,421.2 275.6,421.2 276.6,421.2 277.6,421.2" fill="none" stroke="#141414" stroke-width="1.8" stroke-linejoin="round" stroke-linecap="round" />
<polyline points="54.6,421.2 55.6,421.2 56.6,421.2 57.6,421.2 58.6,421.2 59.6,421.2 60.6,421.2 61.6,421.2 62.6,421.2 63.6,421.2 64.6,421.2 65.6,421.2 66.6,421.2 67.6,421.2 68.6,421.2 69.6,421.2 70.6,421.2 71.6,421.2 72.6,421.2 73.6,421.2 74.6,421.2 75.6,421.2 76.6,421.2 77.6,421.2 78.6,421.2 79.6,421.2 80.6,421.2 81.6,421.2 82.6,421.2 83.6,421.2 84.6,421.2 85.6,421.2 86.6,421.2 87.6,421.2 88.6,421.2 89.6,421.2 90.6,421.2 91.6,421.2 92.6,421.2 93.6,421.2 94.6,421.2 95.6,421.2 96.6,421.2 97.6,421.2 98.6,421.2 99.6,421.2 100.6,421.2 101.6,421.2 102.6,421.2 103.6,421.2 104.6,421.2 105.6,421.2 106.6,421.2 107.6,421.2 108.6,421.2 109.6,421.2 110.6,421.2 111.6,421.2 112.6,421.2 113.6,421.2 114.6,421.0 115.6,420.3 116.6,419.6 117.6,418.7 118.6,417.8 119.6,416.8 120.6,415.7 121.6,414.6 122.6,413.3 123.6,412.0 124.6,410.6 125.6,409.0 126.6,407.4 127.6,405.7 128.6,403.9 129.6,401.9 130.6,399.9 131.6,397.8 132.6,395.5 133.6,393.2 134.6,390.8 135.6,388.3 136.6,385.8 137.6,383.1 138.6,380.4 139.6,377.7 140.6,374.9 141.6,372.0 142.6,369.2 143.6,366.3 144.6,363.4 145.6,360.6 146.6,357.7 147.6,354.9 148.6,352.2 149.6,349.6 150.6,347.0 151.6,344.5 152.6,342.2 153.6,340.0 154.6,337.9 155.6,336.0 156.6,334.2 157.6,332.6 158.6,331.3 159.6,330.1 160.6,329.1 161.6,328.4 162.6,327.8 163.6,327.5 164.6,327.4 165.6,327.6 166.6,328.0 167.6,328.7 168.6,329.6 169.6,330.8 170.6,332.2 171.6,333.8 172.6,335.7 173.6,337.7 174.6,340.0 175.6,342.4 176.6,345.0 177.6,347.7 178.6,350.5 179.6,353.5 180.6,356.5 181.6,359.6 182.6,362.7 183.6,365.9 184.6,369.1 185.6,372.2 186.6,375.4 187.6,378.5 188.6,381.6 189.6,384.7 190.6,387.6 191.6,390.5 192.6,393.3 193.6,396.0 194.6,398.6 195.6,401.1 196.6,403.5 197.6,405.8 198.6,407.9 199.6,409.9 200.6,411.9 201.6,413.7 202.6,415.3 203.6,416.9 204.6,418.4 205.6,419.7 206.6,421.0 207.6,421.2 208.6,421.2 209.6,421.2 210.6,421.2 211.6,421.2 212.6,421.2 213.6,421.2 214.6,421.2 215.6,421.2 216.6,421.2 217.6,421.2 218.6,421.2 219.6,421.2 220.6,421.2 221.6,421.2 222.6,421.2 223.6,421.2 224.6,421.2 225.6,421.2 226.6,421.2 227.6,421.2 228.6,421.2 229.6,421.2 230.6,421.2 231.6,421.2 232.6,421.2 233.6,421.2 234.6,421.2 235.6,421.2 236.6,421.2 237.6,421.2 238.6,421.2 239.6,421.2 240.6,421.2 241.6,421.2 242.6,421.2 243.6,421.2 244.6,421.2 245.6,421.2 246.6,421.2 247.6,421.2 248.6,421.2 249.6,421.2 250.6,421.2 251.6,421.2 252.6,421.2 253.6,421.2 254.6,421.2 255.6,421.2 256.6,421.2 257.6,421.2 258.6,421.2 259.6,421.2 260.6,421.2 261.6,421.2 262.6,421.2 263.6,421.2 264.6,421.2 265.6,421.2 266.6,421.2 267.6,421.2 268.6,421.2 269.6,421.2 270.6,421.2 271.6,421.2 272.6,421.2 273.6,421.2 274.6,421.2 275.6,421.2 276.6,421.2 277.6,421.2" fill="none" stroke="#d63ce0" stroke-width="1.8" stroke-linejoin="round" stroke-linecap="round" />
<polyline points="54.6,421.2 55.6,421.2 56.6,421.2 57.6,421.2 58.6,421.2 59.6,421.2 60.6,421.2 61.6,421.2 62.6,421.2 63.6,421.2 64.6,421.2 65.6,421.2 66.6,421.2 67.6,421.2 68.6,421.2 69.6,421.2 70.6,421.2 71.6,421.2 72.6,421.2 73.6,421.2 74.6,421.2 75.6,421.2 76.6,421.2 77.6,421.2 78.6,421.2 79.6,421.2 80.6,421.2 81.6,420.7 82.6,420.2 83.6,420.0 84.6,419.9 85.6,420.0 86.6,420.2 87.6,420.6 88.6,421.2 89.6,421.2 90.6,421.2 91.6,421.2 92.6,421.2 93.6,421.2 94.6,421.2 95.6,421.2 96.6,421.2 97.6,421.2 98.6,421.2 99.6,421.2 100.6,421.2 101.6,421.2 102.6,421.2 103.6,421.2 104.6,421.2 105.6,421.2 106.6,421.2 107.6,421.2 108.6,421.2 109.6,421.2 110.6,421.2 111.6,421.2 112.6,421.2 113.6,421.0 114.6,420.3 115.6,419.6 116.6,418.8 117.6,417.9 118.6,417.0 119.6,415.9 120.6,414.8 121.6,413.6 122.6,412.3 123.6,410.9 124.6,409.3 125.6,407.7 126.6,406.0 127.6,404.1 128.6,402.2 129.6,400.1 130.6,397.9 131.6,395.6 132.6,393.2 133.6,390.7 134.6,388.0 135.6,385.3 136.6,382.5 137.6,379.6 138.6,376.6 139.6,373.5 140.6,370.4 141.6,367.2 142.6,364.0 143.6,360.8 144.6,357.5 145.6,354.2 146.6,351.0 147.6,347.8 148.6,344.6 149.6,341.5 150.6,338.5 151.6,335.6 152.6,332.8 153.6,330.2 154.6,327.6 155.6,325.3 156.6,323.1 157.6,321.1 158.6,319.3 159.6,317.8 160.6,316.4 161.6,315.3 162.6,314.5 163.6,313.9 164.6,313.5 165.6,313.4 166.6,313.6 167.6,314.1 168.6,314.9 169.6,316.0 170.6,317.4 171.6,319.0 172.6,321.0 173.6,323.2 174.6,325.6 175.6,328.2 176.6,331.1 177.6,334.1 178.6,337.2 179.6,340.6 180.6,344.0 181.6,347.5 182.6,351.1 183.6,354.7 184.6,358.4 185.6,362.0 186.6,365.7 187.6,369.3 188.6,372.9 189.6,376.4 190.6,379.9 191.6,383.2 192.6,386.5 193.6,389.6 194.6,392.7 195.6,395.6 196.6,398.3 197.6,401.0 198.6,403.5 199.6,405.8 200.6,408.1 201.6,410.1 202.6,412.1 203.6,413.9 204.6,415.6 205.6,417.2 206.6,418.6 207.6,419.9 208.6,421.1 209.6,421.2 210.6,421.2 211.6,421.2 212.6,421.2 213.6,421.2 214.6,421.2 215.6,421.2 216.6,421.2 217.6,421.2 218.6,421.2 219.6,421.2 220.6,421.2 221.6,421.2 222.6,421.2 223.6,421.2 224.6,421.2 225.6,421.2 226.6,421.2 227.6,421.2 228.6,421.2 229.6,421.2 230.6,421.2 231.6,421.2 232.6,421.2 233.6,421.2 234.6,421.2 235.6,421.2 236.6,421.2 237.6,421.2 238.6,421.2 239.6,421.2 240.6,421.2 241.6,421.2 242.6,421.2 243.6,421.2 244.6,421.2 245.6,421.2 246.6,421.2 247.6,421.2 248.6,421.2 249.6,421.2 250.6,421.1 251.6,420.9 252.6,420.7 253.6,420.5 254.6,420.4 255.6,420.2 256.6,420.0 257.6,419.8 258.6,419.6 259.6,419.5 260.6,419.3 261.6,419.1 262.6,418.9 263.6,418.7 264.6,418.5 265.6,418.4 266.6,418.2 267.6,418.0 268.6,417.8 269.6,417.6 270.6,417.5 271.6,417.3 272.6,417.1 273.6,416.9 274.6,416.7 275.6,416.5 276.6,416.4 277.6,416.2" fill="none" stroke="#2a8080" stroke-width="1.8" stroke-linejoin="round" stroke-linecap="round" />
<polyline points="54.6,421.2 55.6,421.2 56.6,421.2 57.6,421.2 58.6,421.2 59.6,421.2 60.6,421.2 61.6,421.2 62.6,421.2 63.6,421.2 64.6,421.2 65.6,421.2 66.6,421.2 67.6,421.2 68.6,421.2 69.6,421.2 70.6,421.2 71.6,421.2 72.6,421.2 73.6,421.2 74.6,421.2 75.6,421.2 76.6,421.2 77.6,421.2 78.6,421.2 79.6,421.2 80.6,421.2 81.6,421.2 82.6,421.2 83.6,421.2 84.6,421.2 85.6,421.2 86.6,421.2 87.6,421.2 88.6,421.2 89.6,421.2 90.6,421.2 91.6,421.2 92.6,421.2 93.6,421.2 94.6,421.2 95.6,421.2 96.6,421.2 97.6,421.2 98.6,421.2 99.6,421.2 100.6,421.2 101.6,421.2 102.6,421.2 103.6,421.2 104.6,421.2 105.6,421.2 106.6,421.2 107.6,421.2 108.6,421.2 109.6,421.2 110.6,421.2 111.6,421.2 112.6,420.8 113.6,420.1 114.6,419.4 115.6,418.6 116.6,417.7 117.6,416.7 118.6,415.6 119.6,414.4 120.6,413.2 121.6,411.8 122.6,410.3 123.6,408.8 124.6,407.1 125.6,405.3 126.6,403.4 127.6,401.3 128.6,399.2 129.6,396.9 130.6,394.5 131.6,392.0 132.6,389.4 133.6,386.6 134.6,383.8 135.6,380.9 136.6,377.8 137.6,374.7 138.6,371.5 139.6,368.3 140.6,365.0 141.6,361.6 142.6,358.3 143.6,354.9 144.6,351.5 145.6,348.1 146.6,344.8 147.6,341.5 148.6,338.3 149.6,335.2 150.6,332.2 151.6,329.2 152.6,326.5 153.6,323.9 154.6,321.4 155.6,319.2 156.6,317.1 157.6,315.2 158.6,313.6 159.6,312.2 160.6,311.1 161.6,310.2 162.6,309.6 163.6,309.2 164.6,309.1 165.6,309.3 166.6,309.7 167.6,310.5 168.6,311.5 169.6,312.8 170.6,314.4 171.6,316.2 172.6,318.2 173.6,320.5 174.6,323.0 175.6,325.8 176.6,328.6 177.6,331.7 178.6,334.9 179.6,338.2 180.6,341.6 181.6,345.2 182.6,348.8 183.6,352.4 184.6,356.1 185.6,359.8 186.6,363.5 187.6,367.1 188.6,370.8 189.6,374.4 190.6,377.9 191.6,381.4 192.6,384.7 193.6,388.0 194.6,391.2 195.6,394.3 196.6,397.2 197.6,400.0 198.6,402.8 199.6,405.3 200.6,407.8 201.6,410.1 202.6,412.3 203.6,414.4 204.6,416.3 205.6,418.1 206.6,419.8 207.6,421.2 208.6,421.2 209.6,421.2 210.6,421.2 211.6,421.2 212.6,421.2 213.6,421.2 214.6,421.2 215.6,421.2 216.6,421.2 217.6,421.2 218.6,421.2 219.6,421.2 220.6,421.2 221.6,421.2 222.6,421.2 223.6,421.2 224.6,421.2 225.6,421.2 226.6,421.2 227.6,421.2 228.6,421.2 229.6,421.2 230.6,421.2 231.6,421.2 232.6,421.2 233.6,421.2 234.6,421.2 235.6,421.2 236.6,421.2 237.6,421.2 238.6,421.2 239.6,421.2 240.6,421.2 241.6,421.2 242.6,421.2 243.6,421.2 244.6,421.2 245.6,421.2 246.6,421.2 247.6,421.2 248.6,421.2 249.6,421.2 250.6,421.2 251.6,421.2 252.6,421.2 253.6,421.2 254.6,421.2 255.6,421.2 256.6,421.2 257.6,421.2 258.6,421.2 259.6,421.2 260.6,421.2 261.6,421.2 262.6,421.2 263.6,421.2 264.6,421.2 265.6,421.2 266.6,421.2 267.6,421.2 268.6,421.2 269.6,421.2 270.6,421.2 271.6,421.2 272.6,421.2 273.6,421.2 274.6,421.2 275.6,421.2 276.6,421.2 277.6,421.2" fill="none" stroke="#2838b8" stroke-width="1.8" stroke-linejoin="round" stroke-linecap="round" />
<polyline points="54.6,421.2 55.6,421.2 56.6,421.2 57.6,421.2 58.6,421.2 59.6,421.2 60.6,421.2 61.6,421.2 62.6,421.2 63.6,421.2 64.6,421.2 65.6,421.2 66.6,421.2 67.6,421.2 68.6,421.2 69.6,421.2 70.6,421.2 71.6,420.7 72.6,419.7 73.6,418.8 74.6,417.9 75.6,417.2 76.6,416.5 77.6,415.9 78.6,415.4 79.6,415.0 80.6,414.7 81.6,414.4 82.6,414.3 83.6,414.2 84.6,414.2 85.6,414.3 86.6,414.4 87.6,414.6 88.6,414.8 89.6,415.0 90.6,415.3 91.6,415.6 92.6,415.9 93.6,416.2 94.6,416.6 95.6,416.9 96.6,417.3 97.6,417.7 98.6,418.1 99.6,418.6 100.6,419.0 101.6,419.5 102.6,420.0 103.6,420.5 104.6,421.0 105.6,421.2 106.6,421.2 107.6,420.7 108.6,419.7 109.6,418.6 110.6,417.5 111.6,416.3 112.6,415.0 113.6,413.7 114.6,412.3 115.6,410.7 116.6,409.2 117.6,407.5 118.6,405.8 119.6,403.9 120.6,402.0 121.6,400.0 122.6,397.9 123.6,395.8 124.6,393.5 125.6,391.2 126.6,388.8 127.6,386.3 128.6,383.8 129.6,381.2 130.6,378.5 131.6,375.8 132.6,373.0 133.6,370.1 134.6,367.2 135.6,364.3 136.6,361.4 137.6,358.4 138.6,355.4 139.6,352.5 140.6,349.5 141.6,346.5 142.6,343.6 143.6,340.7 144.6,337.8 145.6,335.0 146.6,332.2 147.6,329.5 148.6,326.9 149.6,324.4 150.6,321.9 151.6,319.6 152.6,317.4 153.6,315.3 154.6,313.4 155.6,311.6 156.6,309.9 157.6,308.5 158.6,307.1 159.6,306.0 160.6,305.0 161.6,304.2 162.6,303.5 163.6,303.1 164.6,302.8 165.6,302.7 166.6,302.9 167.6,303.3 168.6,303.9 169.6,304.7 170.6,305.7 171.6,307.0 172.6,308.5 173.6,310.2 174.6,312.1 175.6,314.1 176.6,316.3 177.6,318.7 178.6,321.3 179.6,324.0 180.6,326.8 181.6,329.7 182.6,332.7 183.6,335.8 184.6,339.0 185.6,342.2 186.6,345.5 187.6,348.8 188.6,352.1 189.6,355.5 190.6,358.8 191.6,362.1 192.6,365.3 193.6,368.6 194.6,371.8 195.6,374.9 196.6,377.9 197.6,380.9 198.6,383.8 199.6,386.7 200.6,389.4 201.6,392.0 202.6,394.6 203.6,397.0 204.6,399.3 205.6,401.6 206.6,403.7 207.6,405.7 208.6,407.7 209.6,409.5 210.6,411.2 211.6,412.8 212.6,414.3 213.6,415.8 214.6,417.1 215.6,418.4 216.6,419.5 217.6,420.6 218.6,421.2 219.6,421.2 220.6,421.2 221.6,421.2 222.6,421.2 223.6,421.2 224.6,421.2 225.6,421.2 226.6,421.2 227.6,421.2 228.6,421.2 229.6,421.2 230.6,421.2 231.6,421.2 232.6,421.2 233.6,421.2 234.6,421.2 235.6,421.2 236.6,421.2 237.6,421.0 238.6,420.8 239.6,420.6 240.6,420.4 241.6,420.2 242.6,419.9 243.6,419.7 244.6,419.5 245.6,419.3 246.6,419.1 247.6,418.9 248.6,418.7 249.6,418.5 250.6,418.2 251.6,418.0 252.6,417.8 253.6,417.6 254.6,417.4 255.6,417.2 256.6,417.0 257.6,416.8 258.6,416.5 259.6,416.3 260.6,416.1 261.6,415.9 262.6,415.7 263.6,415.5 264.6,415.3 265.6,415.1 266.6,414.8 267.6,414.6 268.6,414.4 269.6,414.2 270.6,414.0 271.6,413.8 272.6,413.6 273.6,413.4 274.6,413.1 275.6,412.9 276.6,412.7 277.6,412.5" fill="none" stroke="#d42828" stroke-width="1.8" stroke-linejoin="round" stroke-linecap="round" />
<line x1="54.60" y1="282.30" x2="54.60" y2="422.30" stroke="#000" stroke-width="2.2" stroke-linecap="butt"/>
<line x1="53.50" y1="421.20" x2="277.60" y2="421.20" stroke="#000" stroke-width="2.2" stroke-linecap="butt"/>
<line x1="52.30" y1="282.30" x2="54.60" y2="282.30" stroke="#000" stroke-width="1.3" stroke-linecap="butt"/>
<line x1="52.30" y1="415.77" x2="54.60" y2="415.77" stroke="#000" stroke-width="1.2" stroke-linecap="butt"/>
<line x1="50.60" y1="407.43" x2="54.60" y2="407.43" stroke="#000" stroke-width="1.3" stroke-linecap="butt"/>
<text x="48.20" y="410.03" font-family="Liberation Sans" font-size="7.30" font-weight="normal" font-style="normal" text-anchor="end" fill="#333" textLength="11.60" lengthAdjust="spacingAndGlyphs" stroke="#333" stroke-width="0.3">0.5</text>
<line x1="52.30" y1="399.10" x2="54.60" y2="399.10" stroke="#000" stroke-width="1.2" stroke-linecap="butt"/>
<line x1="50.60" y1="390.76" x2="54.60" y2="390.76" stroke="#000" stroke-width="1.3" stroke-linecap="butt"/>
<text x="48.20" y="393.36" font-family="Liberation Sans" font-size="7.30" font-weight="normal" font-style="normal" text-anchor="end" fill="#333" textLength="11.60" lengthAdjust="spacingAndGlyphs" stroke="#333" stroke-width="0.3">1.0</text>
<line x1="52.30" y1="382.43" x2="54.60" y2="382.43" stroke="#000" stroke-width="1.2" stroke-linecap="butt"/>
<line x1="50.60" y1="374.09" x2="54.60" y2="374.09" stroke="#000" stroke-width="1.3" stroke-linecap="butt"/>
<text x="48.20" y="376.69" font-family="Liberation Sans" font-size="7.30" font-weight="normal" font-style="normal" text-anchor="end" fill="#333" textLength="11.60" lengthAdjust="spacingAndGlyphs" stroke="#333" stroke-width="0.3">1.5</text>
<line x1="52.30" y1="365.75" x2="54.60" y2="365.75" stroke="#000" stroke-width="1.2" stroke-linecap="butt"/>
<line x1="50.60" y1="357.42" x2="54.60" y2="357.42" stroke="#000" stroke-width="1.3" stroke-linecap="butt"/>
<text x="48.20" y="360.02" font-family="Liberation Sans" font-size="7.30" font-weight="normal" font-style="normal" text-anchor="end" fill="#333" textLength="11.60" lengthAdjust="spacingAndGlyphs" stroke="#333" stroke-width="0.3">2.0</text>
<line x1="52.30" y1="349.09" x2="54.60" y2="349.09" stroke="#000" stroke-width="1.2" stroke-linecap="butt"/>
<line x1="50.60" y1="340.75" x2="54.60" y2="340.75" stroke="#000" stroke-width="1.3" stroke-linecap="butt"/>
<text x="48.20" y="343.35" font-family="Liberation Sans" font-size="7.30" font-weight="normal" font-style="normal" text-anchor="end" fill="#333" textLength="11.60" lengthAdjust="spacingAndGlyphs" stroke="#333" stroke-width="0.3">2.5</text>
<line x1="52.30" y1="332.42" x2="54.60" y2="332.42" stroke="#000" stroke-width="1.2" stroke-linecap="butt"/>
<line x1="50.60" y1="324.08" x2="54.60" y2="324.08" stroke="#000" stroke-width="1.3" stroke-linecap="butt"/>
<text x="48.20" y="326.68" font-family="Liberation Sans" font-size="7.30" font-weight="normal" font-style="normal" text-anchor="end" fill="#333" textLength="11.60" lengthAdjust="spacingAndGlyphs" stroke="#333" stroke-width="0.3">3.0</text>
<line x1="52.30" y1="315.75" x2="54.60" y2="315.75" stroke="#000" stroke-width="1.2" stroke-linecap="butt"/>
<line x1="50.60" y1="307.41" x2="54.60" y2="307.41" stroke="#000" stroke-width="1.3" stroke-linecap="butt"/>
<text x="48.20" y="310.01" font-family="Liberation Sans" font-size="7.30" font-weight="normal" font-style="normal" text-anchor="end" fill="#333" textLength="11.60" lengthAdjust="spacingAndGlyphs" stroke="#333" stroke-width="0.3">3.5</text>
<line x1="52.30" y1="299.08" x2="54.60" y2="299.08" stroke="#000" stroke-width="1.2" stroke-linecap="butt"/>
<line x1="50.60" y1="290.74" x2="54.60" y2="290.74" stroke="#000" stroke-width="1.3" stroke-linecap="butt"/>
<text x="48.20" y="293.34" font-family="Liberation Sans" font-size="7.30" font-weight="normal" font-style="normal" text-anchor="end" fill="#333" textLength="11.60" lengthAdjust="spacingAndGlyphs" stroke="#333" stroke-width="0.3">4.0</text>
<line x1="54.70" y1="421.20" x2="54.70" y2="423.80" stroke="#000" stroke-width="1.2" stroke-linecap="butt"/>
<text x="54.70" y="431.60" font-family="Liberation Sans" font-size="7.30" font-weight="normal" font-style="normal" text-anchor="middle" fill="#333" textLength="17.00" lengthAdjust="spacingAndGlyphs" stroke="#333" stroke-width="0.3">-0.4</text>
<line x1="68.65" y1="421.20" x2="68.65" y2="423.20" stroke="#000" stroke-width="1.2" stroke-linecap="butt"/>
<line x1="82.60" y1="421.20" x2="82.60" y2="423.80" stroke="#000" stroke-width="1.2" stroke-linecap="butt"/>
<text x="82.60" y="431.60" font-family="Liberation Sans" font-size="7.30" font-weight="normal" font-style="normal" text-anchor="middle" fill="#333" textLength="17.00" lengthAdjust="spacingAndGlyphs" stroke="#333" stroke-width="0.3">-0.3</text>
<line x1="96.55" y1="421.20" x2="96.55" y2="423.20" stroke="#000" stroke-width="1.2" stroke-linecap="butt"/>
<line x1="110.50" y1="421.20" x2="110.50" y2="423.80" stroke="#000" stroke-width="1.2" stroke-linecap="butt"/>
<text x="110.50" y="431.60" font-family="Liberation Sans" font-size="7.30" font-weight="normal" font-style="normal" text-anchor="middle" fill="#333" textLength="17.00" lengthAdjust="spacingAndGlyphs" stroke="#333" stroke-width="0.3">-0.2</text>
<line x1="124.45" y1="421.20" x2="124.45" y2="423.20" stroke="#000" stroke-width="1.2" stroke-linecap="butt"/>
<line x1="138.40" y1="421.20" x2="138.40" y2="423.80" stroke="#000" stroke-width="1.2" stroke-linecap="butt"/>
<text x="138.40" y="431.60" font-family="Liberation Sans" font-size="7.30" font-weight="normal" font-style="normal" text-anchor="middle" fill="#333" textLength="17.00" lengthAdjust="spacingAndGlyphs" stroke="#333" stroke-width="0.3">-0.1</text>
<line x1="152.35" y1="421.20" x2="152.35" y2="423.20" stroke="#000" stroke-width="1.2" stroke-linecap="butt"/>
<line x1="166.30" y1="421.20" x2="166.30" y2="423.80" stroke="#000" stroke-width="1.2" stroke-linecap="butt"/>
<text x="166.30" y="431.60" font-family="Liberation Sans" font-size="7.30" font-weight="normal" font-style="normal" text-anchor="middle" fill="#333" textLength="12.50" lengthAdjust="spacingAndGlyphs" stroke="#333" stroke-width="0.3">0.0</text>
<line x1="180.25" y1="421.20" x2="180.25" y2="423.20" stroke="#000" stroke-width="1.2" stroke-linecap="butt"/>
<line x1="194.20" y1="421.20" x2="194.20" y2="423.80" stroke="#000" stroke-width="1.2" stroke-linecap="butt"/>
<text x="194.20" y="431.60" font-family="Liberation Sans" font-size="7.30" font-weight="normal" font-style="normal" text-anchor="middle" fill="#333" textLength="12.50" lengthAdjust="spacingAndGlyphs" stroke="#333" stroke-width="0.3">0.1</text>
<line x1="208.15" y1="421.20" x2="208.15" y2="423.20" stroke="#000" stroke-width="1.2" stroke-linecap="butt"/>
<line x1="222.10" y1="421.20" x2="222.10" y2="423.80" stroke="#000" stroke-width="1.2" stroke-linecap="butt"/>
<text x="222.10" y="431.60" font-family="Liberation Sans" font-size="7.30" font-weight="normal" font-style="normal" text-anchor="middle" fill="#333" textLength="12.50" lengthAdjust="spacingAndGlyphs" stroke="#333" stroke-width="0.3">0.2</text>
<line x1="236.05" y1="421.20" x2="236.05" y2="423.20" stroke="#000" stroke-width="1.2" stroke-linecap="butt"/>
<line x1="250.00" y1="421.20" x2="250.00" y2="423.80" stroke="#000" stroke-width="1.2" stroke-linecap="butt"/>
<text x="250.00" y="431.60" font-family="Liberation Sans" font-size="7.30" font-weight="normal" font-style="normal" text-anchor="middle" fill="#333" textLength="12.50" lengthAdjust="spacingAndGlyphs" stroke="#333" stroke-width="0.3">0.3</text>
<line x1="263.95" y1="421.20" x2="263.95" y2="423.20" stroke="#000" stroke-width="1.2" stroke-linecap="butt"/>
<line x1="277.90" y1="421.20" x2="277.90" y2="423.80" stroke="#000" stroke-width="1.2" stroke-linecap="butt"/>
<text x="277.90" y="431.60" font-family="Liberation Sans" font-size="7.30" font-weight="normal" font-style="normal" text-anchor="middle" fill="#333" textLength="12.50" lengthAdjust="spacingAndGlyphs" stroke="#333" stroke-width="0.3">0.4</text>
<text x="165.80" y="443.70" font-family="Liberation Sans" font-size="7.50" font-weight="bold" font-style="normal" text-anchor="middle" fill="#222" textLength="13.50" lengthAdjust="spacingAndGlyphs" >E/V</text>
<g transform="translate(23.9,351.5) rotate(-90)">
<text x="0.00" y="0.00" font-family="Liberation Sans" font-size="9.00" font-weight="bold" font-style="normal" text-anchor="middle" fill="#222" textLength="13.00" lengthAdjust="spacingAndGlyphs" stroke="#222" stroke-width="0.3">I/uA</text>
</g>
<text x="164.80" y="299.90" font-family="Liberation Sans" font-size="7.00" font-weight="bold" font-style="normal" text-anchor="middle" fill="#222" >e)</text>
<text x="164.70" y="308.10" font-family="Liberation Sans" font-size="7.00" font-weight="bold" font-style="normal" text-anchor="middle" fill="#222" >d)</text>
<text x="164.50" y="321.00" font-family="Liberation Sans" font-size="7.00" font-weight="bold" font-style="normal" text-anchor="middle" fill="#222" >c</text>
<text x="166.40" y="337.80" font-family="Liberation Sans" font-size="7.00" font-weight="bold" font-style="normal" text-anchor="middle" fill="#222" >b)</text>
<text x="163.50" y="357.60" font-family="Liberation Sans" font-size="7.00" font-weight="bold" font-style="normal" text-anchor="middle" fill="#222" >a)</text>
<text x="355.20" y="274.90" font-family="Liberation Sans" font-size="15.40" font-weight="bold" font-style="normal" text-anchor="start" fill="#111" textLength="19.80" lengthAdjust="spacingAndGlyphs" >D)</text>
<rect x="396" y="301.4" width="285.4" height="124.7" fill="none" stroke="#2f3d62" stroke-width="1.5"/>
<line x1="393.20" y1="426.10" x2="396.00" y2="426.10" stroke="#2f3d62" stroke-width="1.2" stroke-linecap="butt"/>
<text x="390.20" y="428.30" font-family="Liberation Sans" font-size="6.20" font-weight="bold" font-style="normal" text-anchor="end" fill="#2f3d62" textLength="4.25" lengthAdjust="spacingAndGlyphs" stroke="#2f3d62" stroke-width="0.3">0</text>
<line x1="393.20" y1="405.30" x2="396.00" y2="405.30" stroke="#2f3d62" stroke-width="1.2" stroke-linecap="butt"/>
<text x="390.20" y="407.50" font-family="Liberation Sans" font-size="6.20" font-weight="bold" font-style="normal" text-anchor="end" fill="#2f3d62" textLength="8.50" lengthAdjust="spacingAndGlyphs" stroke="#2f3d62" stroke-width="0.3">20</text>
<line x1="393.20" y1="384.50" x2="396.00" y2="384.50" stroke="#2f3d62" stroke-width="1.2" stroke-linecap="butt"/>
<text x="390.20" y="386.70" font-family="Liberation Sans" font-size="6.20" font-weight="bold" font-style="normal" text-anchor="end" fill="#2f3d62" textLength="8.50" lengthAdjust="spacingAndGlyphs" stroke="#2f3d62" stroke-width="0.3">40</text>
<line x1="393.20" y1="363.70" x2="396.00" y2="363.70" stroke="#2f3d62" stroke-width="1.2" stroke-linecap="butt"/>
<text x="390.20" y="365.90" font-family="Liberation Sans" font-size="6.20" font-weight="bold" font-style="normal" text-anchor="end" fill="#2f3d62" textLength="8.50" lengthAdjust="spacingAndGlyphs" stroke="#2f3d62" stroke-width="0.3">60</text>
<line x1="393.20" y1="342.90" x2="396.00" y2="342.90" stroke="#2f3d62" stroke-width="1.2" stroke-linecap="butt"/>
<text x="390.20" y="345.10" font-family="Liberation Sans" font-size="6.20" font-weight="bold" font-style="normal" text-anchor="end" fill="#2f3d62" textLength="8.50" lengthAdjust="spacingAndGlyphs" stroke="#2f3d62" stroke-width="0.3">80</text>
<line x1="393.20" y1="322.10" x2="396.00" y2="322.10" stroke="#2f3d62" stroke-width="1.2" stroke-linecap="butt"/>
<text x="390.20" y="324.30" font-family="Liberation Sans" font-size="6.20" font-weight="bold" font-style="normal" text-anchor="end" fill="#2f3d62" textLength="12.75" lengthAdjust="spacingAndGlyphs" stroke="#2f3d62" stroke-width="0.3">100</text>
<line x1="393.20" y1="301.30" x2="396.00" y2="301.30" stroke="#2f3d62" stroke-width="1.2" stroke-linecap="butt"/>
<text x="390.20" y="303.50" font-family="Liberation Sans" font-size="6.20" font-weight="bold" font-style="normal" text-anchor="end" fill="#2f3d62" textLength="12.75" lengthAdjust="spacingAndGlyphs" stroke="#2f3d62" stroke-width="0.3">120</text>
<line x1="396.30" y1="426.10" x2="396.30" y2="428.40" stroke="#2f3d62" stroke-width="1.2" stroke-linecap="butt"/>
<text x="396.30" y="435.60" font-family="Liberation Sans" font-size="6.00" font-weight="bold" font-style="normal" text-anchor="middle" fill="#2f3d62" textLength="8.00" lengthAdjust="spacingAndGlyphs" stroke="#2f3d62" stroke-width="0.3">-1</text>
<line x1="437.10" y1="426.10" x2="437.10" y2="428.40" stroke="#2f3d62" stroke-width="1.2" stroke-linecap="butt"/>
<text x="437.10" y="435.60" font-family="Liberation Sans" font-size="6.00" font-weight="bold" font-style="normal" text-anchor="middle" fill="#2f3d62" textLength="4.00" lengthAdjust="spacingAndGlyphs" stroke="#2f3d62" stroke-width="0.3">0</text>
<line x1="477.90" y1="426.10" x2="477.90" y2="428.40" stroke="#2f3d62" stroke-width="1.2" stroke-linecap="butt"/>
<text x="477.90" y="435.60" font-family="Liberation Sans" font-size="6.00" font-weight="bold" font-style="normal" text-anchor="middle" fill="#2f3d62" textLength="4.00" lengthAdjust="spacingAndGlyphs" stroke="#2f3d62" stroke-width="0.3">1</text>
<line x1="518.70" y1="426.10" x2="518.70" y2="428.40" stroke="#2f3d62" stroke-width="1.2" stroke-linecap="butt"/>
<text x="518.70" y="435.60" font-family="Liberation Sans" font-size="6.00" font-weight="bold" font-style="normal" text-anchor="middle" fill="#2f3d62" textLength="4.00" lengthAdjust="spacingAndGlyphs" stroke="#2f3d62" stroke-width="0.3">2</text>
<line x1="559.50" y1="426.10" x2="559.50" y2="428.40" stroke="#2f3d62" stroke-width="1.2" stroke-linecap="butt"/>
<text x="559.50" y="435.60" font-family="Liberation Sans" font-size="6.00" font-weight="bold" font-style="normal" text-anchor="middle" fill="#2f3d62" textLength="4.00" lengthAdjust="spacingAndGlyphs" stroke="#2f3d62" stroke-width="0.3">3</text>
<line x1="600.30" y1="426.10" x2="600.30" y2="428.40" stroke="#2f3d62" stroke-width="1.2" stroke-linecap="butt"/>
<text x="600.30" y="435.60" font-family="Liberation Sans" font-size="6.00" font-weight="bold" font-style="normal" text-anchor="middle" fill="#2f3d62" textLength="4.00" lengthAdjust="spacingAndGlyphs" stroke="#2f3d62" stroke-width="0.3">4</text>
<line x1="641.10" y1="426.10" x2="641.10" y2="428.40" stroke="#2f3d62" stroke-width="1.2" stroke-linecap="butt"/>
<text x="641.10" y="435.60" font-family="Liberation Sans" font-size="6.00" font-weight="bold" font-style="normal" text-anchor="middle" fill="#2f3d62" textLength="4.00" lengthAdjust="spacingAndGlyphs" stroke="#2f3d62" stroke-width="0.3">5</text>
<line x1="681.90" y1="426.10" x2="681.90" y2="428.40" stroke="#2f3d62" stroke-width="1.2" stroke-linecap="butt"/>
<text x="681.90" y="435.60" font-family="Liberation Sans" font-size="6.00" font-weight="bold" font-style="normal" text-anchor="middle" fill="#2f3d62" textLength="4.00" lengthAdjust="spacingAndGlyphs" stroke="#2f3d62" stroke-width="0.3">6</text>
<text x="457.20" y="451.90" font-family="Liberation Sans" font-size="10.40" font-weight="bold" font-style="normal" text-anchor="start" fill="#111" textLength="157.60" lengthAdjust="spacingAndGlyphs" stroke="#111" stroke-width="0.45">Log concentration of mir221</text>
<g transform="translate(365,364.3) rotate(-90)">
<text x="0" y="0" font-family="Liberation Serif" font-size="12" font-weight="bold" text-anchor="middle" fill="#111" textLength="44" lengthAdjust="spacingAndGlyphs">j/μA cm<tspan font-size="7" dy="-4.5">-2</tspan></text>
</g>
<text x="426.10" y="320.80" font-family="Liberation Sans" font-size="8.80" font-weight="bold" font-style="normal" text-anchor="start" fill="#111" textLength="95.50" lengthAdjust="spacingAndGlyphs" stroke="#111" stroke-width="0.3">y = 157.73x +1554</text>
<text x="426.1" y="333.6" font-family="Liberation Sans" font-size="8.8" font-weight="bold" fill="#111" textLength="50.8" lengthAdjust="spacingAndGlyphs"><tspan font-style="italic">R</tspan><tspan font-size="5.5" dy="-3.5">2</tspan><tspan dy="3.5">= 0.986</tspan></text>
<line x1="445.60" y1="385.20" x2="445.60" y2="405.10" stroke="#111" stroke-width="1.2" stroke-linecap="butt"/>
<line x1="443.50" y1="385.20" x2="447.70" y2="385.20" stroke="#111" stroke-width="1.2" stroke-linecap="butt"/>
<line x1="443.50" y1="405.10" x2="447.70" y2="405.10" stroke="#111" stroke-width="1.2" stroke-linecap="butt"/>
<polygon points="445.60,392.80 443.73,396.32 447.47,396.32" fill="#111"/>
<line x1="472.70" y1="366.30" x2="472.70" y2="383.40" stroke="#111" stroke-width="1.2" stroke-linecap="butt"/>
<line x1="470.60" y1="366.30" x2="474.80" y2="366.30" stroke="#111" stroke-width="1.2" stroke-linecap="butt"/>
<line x1="470.60" y1="383.40" x2="474.80" y2="383.40" stroke="#111" stroke-width="1.2" stroke-linecap="butt"/>
<polygon points="472.70,373.70 470.83,377.22 474.57,377.22" fill="#111"/>
<line x1="504.00" y1="358.00" x2="504.00" y2="376.80" stroke="#111" stroke-width="1.2" stroke-linecap="butt"/>
<line x1="501.90" y1="358.00" x2="506.10" y2="358.00" stroke="#111" stroke-width="1.2" stroke-linecap="butt"/>
<line x1="501.90" y1="376.80" x2="506.10" y2="376.80" stroke="#111" stroke-width="1.2" stroke-linecap="butt"/>
<polygon points="504.00,365.00 502.13,368.52 505.87,368.52" fill="#111"/>
<line x1="532.40" y1="364.80" x2="532.40" y2="384.30" stroke="#111" stroke-width="1.2" stroke-linecap="butt"/>
<line x1="530.30" y1="364.80" x2="534.50" y2="364.80" stroke="#111" stroke-width="1.2" stroke-linecap="butt"/>
<line x1="530.30" y1="384.30" x2="534.50" y2="384.30" stroke="#111" stroke-width="1.2" stroke-linecap="butt"/>
<polygon points="532.40,371.60 530.53,375.12 534.27,375.12" fill="#111"/>
<line x1="566.20" y1="343.30" x2="566.20" y2="361.80" stroke="#111" stroke-width="1.2" stroke-linecap="butt"/>
<line x1="564.10" y1="343.30" x2="568.30" y2="343.30" stroke="#111" stroke-width="1.2" stroke-linecap="butt"/>
<line x1="564.10" y1="361.80" x2="568.30" y2="361.80" stroke="#111" stroke-width="1.2" stroke-linecap="butt"/>
<polygon points="566.20,350.70 564.33,354.22 568.07,354.22" fill="#111"/>
<line x1="617.70" y1="343.90" x2="617.70" y2="361.20" stroke="#111" stroke-width="1.2" stroke-linecap="butt"/>
<line x1="615.60" y1="343.90" x2="619.80" y2="343.90" stroke="#111" stroke-width="1.2" stroke-linecap="butt"/>
<line x1="615.60" y1="361.20" x2="619.80" y2="361.20" stroke="#111" stroke-width="1.2" stroke-linecap="butt"/>
<polygon points="617.70,349.20 615.83,352.72 619.57,352.72" fill="#111"/>
<line x1="428.30" y1="395.00" x2="428.30" y2="401.00" stroke="#111" stroke-width="1.1" stroke-linecap="butt"/>
<line x1="426.40" y1="400.20" x2="626.70" y2="337.90" stroke="#000" stroke-width="4.4" stroke-linecap="round"/>
<text x="44.00" y="515.80" font-family="Liberation Sans" font-size="9.50" font-weight="bold" font-style="normal" text-anchor="start" fill="#111" textLength="16.50" lengthAdjust="spacingAndGlyphs" >E )</text>
<polyline points="90.5,669.1 91.5,669.2 92.5,669.4 93.5,669.5 94.5,669.6 95.5,669.7 96.5,669.8 97.5,669.9 98.5,670.0 99.5,670.1 100.5,670.2 101.5,670.2 102.5,670.3 103.5,670.4 104.5,670.5 105.5,670.6 106.5,670.6 107.5,670.7 108.5,670.7 109.5,670.8 110.5,670.9 111.5,670.9 112.5,670.9 113.5,671.0 114.5,671.0 115.5,671.1 116.5,671.1 117.5,671.1 118.5,671.2 119.5,671.2 120.5,671.2 121.5,671.2 122.5,671.2 123.5,671.2 124.5,671.2 125.5,671.2 126.5,671.2 127.5,671.2 128.5,671.2 129.5,671.2 130.5,671.2 131.5,671.2 132.5,671.2 133.5,671.2 134.5,671.2 135.5,671.0 136.5,670.9 137.5,670.6 138.5,670.4 139.5,670.2 140.5,669.9 141.5,669.5 142.5,669.2 143.5,668.7 144.5,668.3 145.5,667.8 146.5,667.2 147.5,666.6 148.5,665.9 149.5,665.1 150.5,664.3 151.5,663.4 152.5,662.4 153.5,661.3 154.5,660.2 155.5,659.0 156.5,657.6 157.5,656.2 158.5,654.7 159.5,653.1 160.5,651.4 161.5,649.6 162.5,647.7 163.5,645.7 164.5,643.6 165.5,641.5 166.5,639.2 167.5,636.9 168.5,634.5 169.5,632.1 170.5,629.6 171.5,627.0 172.5,624.4 173.5,621.8 174.5,619.2 175.5,616.6 176.5,614.0 177.5,611.5 178.5,609.0 179.5,606.5 180.5,604.2 181.5,601.9 182.5,599.7 183.5,597.6 184.5,595.7 185.5,593.9 186.5,592.3 187.5,590.9 188.5,589.6 189.5,588.5 190.5,587.6 191.5,587.0 192.5,586.5 193.5,586.2 194.5,586.2 195.5,586.4 196.5,586.7 197.5,587.3 198.5,588.1 199.5,589.0 200.5,590.2 201.5,591.5 202.5,593.0 203.5,594.6 204.5,596.5 205.5,598.4 206.5,600.4 207.5,602.6 208.5,604.9 209.5,607.2 210.5,609.7 211.5,612.1 212.5,614.7 213.5,617.2 214.5,619.8 215.5,622.3 216.5,624.9 217.5,627.4 218.5,629.9 219.5,632.4 220.5,634.8 221.5,637.1 222.5,639.4 223.5,641.6 224.5,643.8 225.5,645.8 226.5,647.8 227.5,649.7 228.5,651.5 229.5,653.1 230.5,654.8 231.5,656.3 232.5,657.7 233.5,659.0 234.5,660.3 235.5,661.4 236.5,662.5 237.5,663.5 238.5,664.4 239.5,665.3 240.5,666.1 241.5,666.8 242.5,667.4 243.5,668.0 244.5,668.6 245.5,669.0 246.5,669.3 247.5,669.6 248.5,669.8 249.5,670.0 250.5,670.1 251.5,670.3 252.5,670.3 253.5,670.2 254.5,670.1 255.5,669.9 256.5,669.8 257.5,669.7 258.5,669.6 259.5,669.4 260.5,669.3 261.5,669.2 262.5,669.1 263.5,668.9 264.5,668.8 265.5,668.7 266.5,668.6 267.5,668.4 268.5,668.3 269.5,668.2 270.5,668.1 271.5,667.9 272.5,667.8 273.5,667.7 274.5,667.6 275.5,667.4 276.5,667.3 277.5,667.2 278.5,667.1 279.5,666.9 280.5,666.8 281.5,666.7 282.5,666.6 283.5,666.4 284.5,666.3 285.5,666.2 286.5,666.1 287.5,666.0 288.5,665.8 289.5,665.7 290.5,665.6 291.5,665.5 292.5,665.3 293.5,665.2 294.5,665.1 295.5,665.0 296.5,664.8 297.5,664.7 298.5,664.6 299.5,664.5 300.5,664.3 301.5,664.2" fill="none" stroke="#d22020" stroke-width="1.8" stroke-linejoin="round" stroke-linecap="round" />
<polyline points="90.5,668.6 91.5,668.8 92.5,668.9 93.5,669.0 94.5,669.2 95.5,669.3 96.5,669.4 97.5,669.6 98.5,669.7 99.5,669.8 100.5,669.9 101.5,670.0 102.5,670.1 103.5,670.2 104.5,670.3 105.5,670.4 106.5,670.5 107.5,670.5 108.5,670.6 109.5,670.7 110.5,670.8 111.5,670.8 112.5,670.9 113.5,670.9 114.5,671.0 115.5,671.0 116.5,671.1 117.5,671.1 118.5,671.1 119.5,671.2 120.5,671.2 121.5,671.2 122.5,671.2 123.5,671.2 124.5,671.2 125.5,671.2 126.5,671.2 127.5,671.2 128.5,671.2 129.5,671.2 130.5,671.2 131.5,671.2 132.5,671.2 133.5,671.2 134.5,671.2 135.5,671.2 136.5,671.2 137.5,671.2 138.5,671.2 139.5,671.2 140.5,671.2 141.5,671.2 142.5,671.2 143.5,671.2 144.5,671.1 145.5,670.7 146.5,670.3 147.5,669.7 148.5,669.1 149.5,668.5 150.5,667.7 151.5,666.9 152.5,665.9 153.5,664.9 154.5,663.7 155.5,662.5 156.5,661.1 157.5,659.6 158.5,657.9 159.5,656.1 160.5,654.1 161.5,652.0 162.5,649.8 163.5,647.4 164.5,644.8 165.5,642.1 166.5,639.2 167.5,636.2 168.5,633.1 169.5,629.8 170.5,626.4 171.5,622.9 172.5,619.3 173.5,615.6 174.5,611.9 175.5,608.1 176.5,604.3 177.5,600.5 178.5,596.8 179.5,593.1 180.5,589.5 181.5,586.0 182.5,582.6 183.5,579.4 184.5,576.4 185.5,573.6 186.5,571.0 187.5,568.7 188.5,566.7 189.5,565.0 190.5,563.6 191.5,562.5 192.5,561.7 193.5,561.3 194.5,561.2 195.5,561.5 196.5,562.1 197.5,563.1 198.5,564.4 199.5,566.0 200.5,567.9 201.5,570.2 202.5,572.6 203.5,575.4 204.5,578.3 205.5,581.5 206.5,584.8 207.5,588.3 208.5,591.9 209.5,595.6 210.5,599.3 211.5,603.1 212.5,606.9 213.5,610.7 214.5,614.5 215.5,618.2 216.5,621.9 217.5,625.5 218.5,628.9 219.5,632.3 220.5,635.5 221.5,638.6 222.5,641.6 223.5,644.4 224.5,647.0 225.5,649.5 226.5,651.8 227.5,654.0 228.5,656.0 229.5,657.9 230.5,659.7 231.5,661.2 232.5,662.7 233.5,664.0 234.5,665.2 235.5,666.3 236.5,667.3 237.5,668.2 238.5,669.0 239.5,669.7 240.5,670.3 241.5,670.9 242.5,671.2 243.5,671.2 244.5,671.2 245.5,671.2 246.5,671.1 247.5,670.9 248.5,670.8 249.5,670.7 250.5,670.6 251.5,670.4 252.5,670.3 253.5,670.2 254.5,670.1 255.5,669.9 256.5,669.8 257.5,669.7 258.5,669.6 259.5,669.4 260.5,669.3 261.5,669.2 262.5,669.1 263.5,668.9 264.5,668.8 265.5,668.7 266.5,668.6 267.5,668.4 268.5,668.3 269.5,668.2 270.5,668.1 271.5,667.9 272.5,667.8 273.5,667.7 274.5,667.6 275.5,667.4 276.5,667.3 277.5,667.2 278.5,667.1 279.5,666.9 280.5,666.8 281.5,666.7 282.5,666.6 283.5,666.4 284.5,666.3 285.5,666.2 286.5,666.1 287.5,666.0 288.5,665.8 289.5,665.7 290.5,665.6 291.5,665.5 292.5,665.3 293.5,665.2 294.5,665.1 295.5,665.0 296.5,664.8 297.5,664.7 298.5,664.6 299.5,664.5 300.5,664.3 301.5,664.2" fill="none" stroke="#2a8080" stroke-width="1.8" stroke-linejoin="round" stroke-linecap="round" />
<polyline points="140.5,671.2 141.5,671.2 142.5,671.2 143.5,671.2 144.5,671.2 145.5,671.2 146.5,671.2 147.5,671.2 148.5,671.2 149.5,671.2 150.5,671.2 151.5,671.2 152.5,671.0 153.5,670.0 154.5,669.0 155.5,667.8 156.5,666.5 157.5,665.1 158.5,663.5 159.5,661.7 160.5,659.8 161.5,657.6 162.5,655.4 163.5,652.9 164.5,650.2 165.5,647.4 166.5,644.3 167.5,641.1 168.5,637.7 169.5,634.1 170.5,630.3 171.5,626.4 172.5,622.4 173.5,618.2 174.5,613.9 175.5,609.6 176.5,605.2 177.5,600.8 178.5,596.4 179.5,592.0 180.5,587.8 181.5,583.6 182.5,579.6 183.5,575.7 184.5,572.1 185.5,568.7 186.5,565.5 187.5,562.7 188.5,560.2 189.5,558.1 190.5,556.4 191.5,555.0 192.5,554.1 193.5,553.6 194.5,553.5 195.5,553.9 196.5,554.7 197.5,556.0 198.5,557.7 199.5,559.8 200.5,562.3 201.5,565.2 202.5,568.4 203.5,571.9 204.5,575.7 205.5,579.7 206.5,583.9 207.5,588.3 208.5,592.8 209.5,597.3 210.5,601.9 211.5,606.5 212.5,611.1 213.5,615.6 214.5,620.1 215.5,624.4 216.5,628.6 217.5,632.6 218.5,636.5 219.5,640.2 220.5,643.7 221.5,647.0 222.5,650.1 223.5,653.0 224.5,655.7 225.5,658.2 226.5,660.5 227.5,662.6 228.5,664.5 229.5,666.2 230.5,667.8 231.5,669.2 232.5,670.4 233.5,671.2 234.5,671.2 235.5,671.2 236.5,671.2 237.5,671.2 238.5,671.2 239.5,671.2 240.5,671.2 241.5,671.2 242.5,671.2 243.5,671.2 244.5,671.2 245.5,671.1 246.5,671.0 247.5,670.8 248.5,670.6 249.5,670.4 250.5,670.2 251.5,670.0 252.5,669.8 253.5,669.7 254.5,669.5 255.5,669.3 256.5,669.1 257.5,668.9 258.5,668.7 259.5,668.5 260.5,668.3 261.5,668.2 262.5,668.0 263.5,667.8 264.5,667.6 265.5,667.4 266.5,667.2 267.5,667.0 268.5,666.9 269.5,666.7 270.5,666.5 271.5,666.3 272.5,666.1 273.5,665.9 274.5,665.7 275.5,665.5 276.5,665.4 277.5,665.2 278.5,665.0 279.5,664.8 280.5,664.6 281.5,664.4 282.5,664.2 283.5,664.1 284.5,663.9 285.5,663.7 286.5,663.5 287.5,663.3 288.5,663.1 289.5,662.9 290.5,662.7 291.5,662.6 292.5,662.4 293.5,662.2 294.5,662.0 295.5,661.8 296.5,661.6 297.5,661.4 298.5,661.3 299.5,661.1 300.5,660.9 301.5,660.7" fill="none" stroke="#8c8c1e" stroke-width="1.8" stroke-linejoin="round" stroke-linecap="round" />
<polyline points="90.5,662.5 91.5,662.9 92.5,663.4 93.5,663.9 94.5,664.3 95.5,664.8 96.5,665.2 97.5,665.6 98.5,666.0 99.5,666.4 100.5,666.8 101.5,667.1 102.5,667.4 103.5,667.8 104.5,668.1 105.5,668.4 106.5,668.6 107.5,668.9 108.5,669.2 109.5,669.4 110.5,669.6 111.5,669.8 112.5,670.0 113.5,670.2 114.5,670.4 115.5,670.5 116.5,670.7 117.5,670.8 118.5,670.9 119.5,671.0 120.5,671.1 121.5,671.1 122.5,671.2 123.5,671.2 124.5,671.2 125.5,671.2 126.5,671.2 127.5,671.2 128.5,671.2 129.5,671.2 130.5,671.2 131.5,671.2 132.5,671.2 133.5,671.2 134.5,671.2 135.5,671.2 136.5,671.2 137.5,671.2 138.5,671.2 139.5,671.2 140.5,671.2 141.5,671.2 142.5,671.2 143.5,671.0 144.5,670.7 145.5,670.4 146.5,670.0 147.5,669.5 148.5,669.0 149.5,668.4 150.5,667.7 151.5,667.0 152.5,666.2 153.5,665.2 154.5,664.2 155.5,663.1 156.5,661.9 157.5,660.5 158.5,659.0 159.5,657.4 160.5,655.6 161.5,653.7 162.5,651.7 163.5,649.5 164.5,647.2 165.5,644.7 166.5,642.1 167.5,639.3 168.5,636.4 169.5,633.4 170.5,630.2 171.5,627.0 172.5,623.7 173.5,620.2 174.5,616.7 175.5,613.2 176.5,609.6 177.5,606.1 178.5,602.5 179.5,599.0 180.5,595.5 181.5,592.2 182.5,588.9 183.5,585.8 184.5,582.9 185.5,580.1 186.5,577.5 187.5,575.2 188.5,573.1 189.5,571.3 190.5,569.8 191.5,568.6 192.5,567.7 193.5,567.1 194.5,566.9 195.5,566.9 196.5,567.2 197.5,567.8 198.5,568.7 199.5,569.8 200.5,571.1 201.5,572.7 202.5,574.5 203.5,576.5 204.5,578.7 205.5,581.1 206.5,583.7 207.5,586.4 208.5,589.3 209.5,592.2 210.5,595.3 211.5,598.4 212.5,601.6 213.5,604.8 214.5,608.0 215.5,611.3 216.5,614.5 217.5,617.7 218.5,620.9 219.5,624.0 220.5,627.1 221.5,630.1 222.5,633.0 223.5,635.8 224.5,638.5 225.5,641.0 226.5,643.5 227.5,645.9 228.5,648.1 229.5,650.2 230.5,652.2 231.5,654.1 232.5,655.9 233.5,657.6 234.5,659.1 235.5,660.5 236.5,661.8 237.5,663.1 238.5,664.2 239.5,665.2 240.5,666.2 241.5,667.0 242.5,667.8 243.5,668.5 244.5,669.2 245.5,669.7 246.5,670.1 247.5,670.5 248.5,670.8 249.5,670.8 250.5,670.8 251.5,670.7 252.5,670.6 253.5,670.5 254.5,670.4 255.5,670.3 256.5,670.2 257.5,670.2 258.5,670.1 259.5,670.0 260.5,669.9 261.5,669.8 262.5,669.7 263.5,669.6 264.5,669.5 265.5,669.5 266.5,669.4 267.5,669.3 268.5,669.2 269.5,669.1 270.5,669.0 271.5,668.9 272.5,668.8 273.5,668.8 274.5,668.7 275.5,668.6 276.5,668.5 277.5,668.4 278.5,668.3 279.5,668.2 280.5,668.1 281.5,668.1 282.5,668.0 283.5,667.9 284.5,667.8 285.5,667.7 286.5,667.6 287.5,667.5 288.5,667.5 289.5,667.4 290.5,667.3 291.5,667.2 292.5,667.1 293.5,667.0 294.5,666.9 295.5,666.8 296.5,666.8 297.5,666.7 298.5,666.6 299.5,666.5 300.5,666.4 301.5,666.3" fill="none" stroke="#141414" stroke-width="1.8" stroke-linejoin="round" stroke-linecap="round" />
<polyline points="90.5,661.4 91.5,662.0 92.5,662.5 93.5,663.0 94.5,663.5 95.5,664.0 96.5,664.5 97.5,664.9 98.5,665.4 99.5,665.8 100.5,666.2 101.5,666.6 102.5,667.0 103.5,667.4 104.5,667.7 105.5,668.0 106.5,668.3 107.5,668.6 108.5,668.9 109.5,669.2 110.5,669.4 111.5,669.7 112.5,669.9 113.5,670.1 114.5,670.3 115.5,670.4 116.5,670.6 117.5,670.7 118.5,670.8 119.5,671.0 120.5,671.0 121.5,671.1 122.5,671.2 123.5,671.2 124.5,671.2 125.5,671.2 126.5,671.2 127.5,671.2 128.5,671.2 129.5,671.2 130.5,671.2 131.5,671.2 132.5,671.2 133.5,671.2 134.5,671.2 135.5,671.2 136.5,671.2 137.5,671.2 138.5,671.2 139.5,671.2 140.5,671.2 141.5,671.2 142.5,671.1 143.5,670.8 144.5,670.3 145.5,669.8 146.5,669.3 147.5,668.7 148.5,668.0 149.5,667.3 150.5,666.4 151.5,665.5 152.5,664.5 153.5,663.4 154.5,662.2 155.5,660.9 156.5,659.5 157.5,658.0 158.5,656.3 159.5,654.5 160.5,652.6 161.5,650.6 162.5,648.5 163.5,646.2 164.5,643.8 165.5,641.3 166.5,638.7 167.5,635.9 168.5,633.1 169.5,630.2 170.5,627.2 171.5,624.1 172.5,620.9 173.5,617.7 174.5,614.5 175.5,611.3 176.5,608.1 177.5,604.9 178.5,601.7 179.5,598.6 180.5,595.6 181.5,592.7 182.5,589.9 183.5,587.3 184.5,584.8 185.5,582.5 186.5,580.4 187.5,578.6 188.5,576.9 189.5,575.5 190.5,574.4 191.5,573.5 192.5,572.9 193.5,572.5 194.5,572.5 195.5,572.7 196.5,573.2 197.5,574.0 198.5,575.0 199.5,576.3 200.5,577.9 201.5,579.7 202.5,581.7 203.5,583.9 204.5,586.3 205.5,588.9 206.5,591.6 207.5,594.5 208.5,597.4 209.5,600.5 210.5,603.6 211.5,606.8 212.5,610.0 213.5,613.2 214.5,616.5 215.5,619.7 216.5,622.8 217.5,625.9 218.5,629.0 219.5,631.9 220.5,634.8 221.5,637.6 222.5,640.3 223.5,642.8 224.5,645.3 225.5,647.6 226.5,649.8 227.5,651.9 228.5,653.8 229.5,655.6 230.5,657.3 231.5,658.9 232.5,660.4 233.5,661.7 234.5,663.0 235.5,664.1 236.5,665.1 237.5,666.1 238.5,667.0 239.5,667.7 240.5,668.4 241.5,669.1 242.5,669.6 243.5,670.1 244.5,670.6 245.5,670.9 246.5,671.1 247.5,671.0 248.5,670.9 249.5,670.8 250.5,670.8 251.5,670.7 252.5,670.6 253.5,670.5 254.5,670.4 255.5,670.3 256.5,670.2 257.5,670.2 258.5,670.1 259.5,670.0 260.5,669.9 261.5,669.8 262.5,669.7 263.5,669.6 264.5,669.5 265.5,669.5 266.5,669.4 267.5,669.3 268.5,669.2 269.5,669.1 270.5,669.0 271.5,668.9 272.5,668.8 273.5,668.8 274.5,668.7 275.5,668.6 276.5,668.5 277.5,668.4 278.5,668.3 279.5,668.2 280.5,668.1 281.5,668.1 282.5,668.0 283.5,667.9 284.5,667.8 285.5,667.7 286.5,667.6 287.5,667.5 288.5,667.5 289.5,667.4 290.5,667.3 291.5,667.2 292.5,667.1 293.5,667.0 294.5,666.9 295.5,666.8 296.5,666.8 297.5,666.7 298.5,666.6 299.5,666.5 300.5,666.4 301.5,666.3" fill="none" stroke="#2222d0" stroke-width="1.8" stroke-linejoin="round" stroke-linecap="round" />
<polyline points="90.5,666.0 91.5,666.3 92.5,666.6 93.5,666.8 94.5,667.1 95.5,667.4 96.5,667.6 97.5,667.9 98.5,668.1 99.5,668.3 100.5,668.5 101.5,668.8 102.5,669.0 103.5,669.2 104.5,669.3 105.5,669.5 106.5,669.7 107.5,669.8 108.5,670.0 109.5,670.1 110.5,670.3 111.5,670.4 112.5,670.5 113.5,670.6 114.5,670.7 115.5,670.8 116.5,670.9 117.5,671.0 118.5,671.0 119.5,671.1 120.5,671.1 121.5,671.2 122.5,671.2 123.5,671.2 124.5,671.2 125.5,671.2 126.5,671.2 127.5,671.2 128.5,671.2 129.5,671.2 130.5,671.2 131.5,671.2 132.5,671.2 133.5,671.2 134.5,671.2 135.5,671.2 136.5,671.2 137.5,671.2 138.5,671.2 139.5,671.2 140.5,671.0 141.5,670.7 142.5,670.4 143.5,670.1 144.5,669.7 145.5,669.3 146.5,668.8 147.5,668.3 148.5,667.6 149.5,666.9 150.5,666.1 151.5,665.2 152.5,664.2 153.5,663.0 154.5,661.8 155.5,660.4 156.5,658.9 157.5,657.2 158.5,655.4 159.5,653.4 160.5,651.2 161.5,648.9 162.5,646.4 163.5,643.7 164.5,640.9 165.5,637.8 166.5,634.6 167.5,631.2 168.5,627.7 169.5,624.0 170.5,620.2 171.5,616.2 172.5,612.1 173.5,607.9 174.5,603.7 175.5,599.4 176.5,595.1 177.5,590.8 178.5,586.5 179.5,582.3 180.5,578.2 181.5,574.2 182.5,570.3 183.5,566.7 184.5,563.2 185.5,560.0 186.5,557.1 187.5,554.4 188.5,552.1 189.5,550.1 190.5,548.5 191.5,547.2 192.5,546.3 193.5,545.9 194.5,545.8 195.5,546.1 196.5,546.8 197.5,548.0 198.5,549.5 199.5,551.4 200.5,553.7 201.5,556.3 202.5,559.3 203.5,562.5 204.5,566.0 205.5,569.7 206.5,573.6 207.5,577.6 208.5,581.8 209.5,586.1 210.5,590.5 211.5,594.9 212.5,599.3 213.5,603.6 214.5,608.0 215.5,612.2 216.5,616.4 217.5,620.4 218.5,624.3 219.5,628.1 220.5,631.7 221.5,635.2 222.5,638.4 223.5,641.5 224.5,644.4 225.5,647.1 226.5,649.6 227.5,652.0 228.5,654.2 229.5,656.2 230.5,658.0 231.5,659.7 232.5,661.2 233.5,662.6 234.5,663.8 235.5,664.9 236.5,665.9 237.5,666.8 238.5,667.6 239.5,668.3 240.5,668.9 241.5,669.5 242.5,670.0 243.5,670.4 244.5,670.7 245.5,670.9 246.5,670.8 247.5,670.5 248.5,670.2 249.5,669.9 250.5,669.6 251.5,669.3 252.5,669.0 253.5,668.7 254.5,668.4 255.5,668.1 256.5,667.8 257.5,667.5 258.5,667.2 259.5,666.9 260.5,666.6 261.5,666.3 262.5,666.0 263.5,665.7 264.5,665.4 265.5,665.1 266.5,664.8 267.5,664.5 268.5,664.2 269.5,663.9 270.5,663.6 271.5,663.3 272.5,663.0 273.5,662.7 274.5,662.4 275.5,662.1 276.5,661.8 277.5,661.5 278.5,661.2 279.5,660.9 280.5,660.6 281.5,660.3 282.5,660.0 283.5,659.7 284.5,659.4 285.5,659.1 286.5,658.8 287.5,658.5 288.5,658.2 289.5,658.0 290.5,657.7 291.5,657.4 292.5,657.1 293.5,656.8 294.5,656.5 295.5,656.2 296.5,655.9 297.5,655.6 298.5,655.3 299.5,655.0 300.5,654.7 301.5,654.4" fill="none" stroke="#e030e0" stroke-width="1.8" stroke-linejoin="round" stroke-linecap="round" />
<polyline points="90.5,660.0 91.5,660.6 92.5,661.2 93.5,661.8 94.5,662.4 95.5,663.0 96.5,663.5 97.5,664.0 98.5,664.5 99.5,665.0 100.5,665.5 101.5,666.0 102.5,666.4 103.5,666.8 104.5,667.2 105.5,667.6 106.5,667.9 107.5,668.3 108.5,668.6 109.5,668.9 110.5,669.2 111.5,669.4 112.5,669.7 113.5,669.9 114.5,670.1 115.5,670.3 116.5,670.5 117.5,670.7 118.5,670.8 119.5,670.9 120.5,671.0 121.5,671.1 122.5,671.2 123.5,671.2 124.5,671.2 125.5,671.2 126.5,671.2 127.5,671.2 128.5,671.2 129.5,671.2 130.5,671.2 131.5,671.2 132.5,671.2 133.5,671.2 134.5,671.2 135.5,671.2 136.5,671.2 137.5,671.2 138.5,671.2 139.5,671.2 140.5,671.2 141.5,671.2 142.5,671.2 143.5,671.2 144.5,671.2 145.5,671.2 146.5,671.3 147.5,671.3 148.5,671.3 149.5,671.3" fill="none" stroke="#1a1a6a" stroke-width="2.0" stroke-linejoin="round" stroke-linecap="round" />
<polyline points="240.5,671.3 241.5,671.3 242.5,671.3 243.5,671.2 244.5,671.2 245.5,671.2 246.5,671.1 247.5,671.1 248.5,671.0 249.5,670.9 250.5,670.8 251.5,670.8 252.5,670.7 253.5,670.6 254.5,670.5 255.5,670.5 256.5,670.4 257.5,670.3 258.5,670.2 259.5,670.2 260.5,670.1 261.5,670.0 262.5,669.9 263.5,669.9 264.5,669.8 265.5,669.7 266.5,669.6 267.5,669.6 268.5,669.5 269.5,669.4 270.5,669.3 271.5,669.3 272.5,669.2 273.5,669.1 274.5,669.0 275.5,669.0 276.5,668.9 277.5,668.8 278.5,668.7 279.5,668.7 280.5,668.6 281.5,668.5 282.5,668.4 283.5,668.4 284.5,668.3 285.5,668.2 286.5,668.1 287.5,668.1 288.5,668.0 289.5,667.9 290.5,667.8 291.5,667.8 292.5,667.7 293.5,667.6 294.5,667.5 295.5,667.5 296.5,667.4 297.5,667.3 298.5,667.2 299.5,667.2 300.5,667.1 301.5,667.0" fill="none" stroke="#1a1a6a" stroke-width="2.0" stroke-linejoin="round" stroke-linecap="round" />
<line x1="68.60" y1="533.20" x2="68.60" y2="674.90" stroke="#000" stroke-width="2.5" stroke-linecap="butt"/>
<line x1="67.40" y1="673.70" x2="343.10" y2="673.70" stroke="#000" stroke-width="2.5" stroke-linecap="butt"/>
<line x1="63.20" y1="673.70" x2="68.60" y2="673.70" stroke="#000" stroke-width="1.5" stroke-linecap="butt"/>
<text x="61.30" y="676.50" font-family="Liberation Sans" font-size="7.80" font-weight="normal" font-style="normal" text-anchor="end" fill="#222" textLength="16.70" lengthAdjust="spacingAndGlyphs" stroke="#222" stroke-width="0.35">0.0</text>
<line x1="65.00" y1="664.91" x2="68.60" y2="664.91" stroke="#000" stroke-width="1.4" stroke-linecap="butt"/>
<line x1="63.20" y1="656.12" x2="68.60" y2="656.12" stroke="#000" stroke-width="1.5" stroke-linecap="butt"/>
<text x="61.30" y="658.92" font-family="Liberation Sans" font-size="7.80" font-weight="normal" font-style="normal" text-anchor="end" fill="#222" textLength="16.70" lengthAdjust="spacingAndGlyphs" stroke="#222" stroke-width="0.35">0.5</text>
<line x1="65.00" y1="647.34" x2="68.60" y2="647.34" stroke="#000" stroke-width="1.4" stroke-linecap="butt"/>
<line x1="63.20" y1="638.55" x2="68.60" y2="638.55" stroke="#000" stroke-width="1.5" stroke-linecap="butt"/>
<text x="61.30" y="641.35" font-family="Liberation Sans" font-size="7.80" font-weight="normal" font-style="normal" text-anchor="end" fill="#222" textLength="16.70" lengthAdjust="spacingAndGlyphs" stroke="#222" stroke-width="0.35">1.0</text>
<line x1="65.00" y1="629.76" x2="68.60" y2="629.76" stroke="#000" stroke-width="1.4" stroke-linecap="butt"/>
<line x1="63.20" y1="620.98" x2="68.60" y2="620.98" stroke="#000" stroke-width="1.5" stroke-linecap="butt"/>
<text x="61.30" y="623.77" font-family="Liberation Sans" font-size="7.80" font-weight="normal" font-style="normal" text-anchor="end" fill="#222" textLength="16.70" lengthAdjust="spacingAndGlyphs" stroke="#222" stroke-width="0.35">1.5</text>
<line x1="65.00" y1="612.19" x2="68.60" y2="612.19" stroke="#000" stroke-width="1.4" stroke-linecap="butt"/>
<line x1="63.20" y1="603.40" x2="68.60" y2="603.40" stroke="#000" stroke-width="1.5" stroke-linecap="butt"/>
<text x="61.30" y="606.20" font-family="Liberation Sans" font-size="7.80" font-weight="normal" font-style="normal" text-anchor="end" fill="#222" textLength="16.70" lengthAdjust="spacingAndGlyphs" stroke="#222" stroke-width="0.35">2.0</text>
<line x1="65.00" y1="594.61" x2="68.60" y2="594.61" stroke="#000" stroke-width="1.4" stroke-linecap="butt"/>
<line x1="63.20" y1="585.83" x2="68.60" y2="585.83" stroke="#000" stroke-width="1.5" stroke-linecap="butt"/>
<text x="61.30" y="588.62" font-family="Liberation Sans" font-size="7.80" font-weight="normal" font-style="normal" text-anchor="end" fill="#222" textLength="16.70" lengthAdjust="spacingAndGlyphs" stroke="#222" stroke-width="0.35">2.5</text>
<line x1="65.00" y1="577.04" x2="68.60" y2="577.04" stroke="#000" stroke-width="1.4" stroke-linecap="butt"/>
<line x1="63.20" y1="568.25" x2="68.60" y2="568.25" stroke="#000" stroke-width="1.5" stroke-linecap="butt"/>
<text x="61.30" y="571.05" font-family="Liberation Sans" font-size="7.80" font-weight="normal" font-style="normal" text-anchor="end" fill="#222" textLength="16.70" lengthAdjust="spacingAndGlyphs" stroke="#222" stroke-width="0.35">3.0</text>
<line x1="65.00" y1="559.46" x2="68.60" y2="559.46" stroke="#000" stroke-width="1.4" stroke-linecap="butt"/>
<line x1="63.20" y1="550.68" x2="68.60" y2="550.68" stroke="#000" stroke-width="1.5" stroke-linecap="butt"/>
<text x="61.30" y="553.48" font-family="Liberation Sans" font-size="7.80" font-weight="normal" font-style="normal" text-anchor="end" fill="#222" textLength="16.70" lengthAdjust="spacingAndGlyphs" stroke="#222" stroke-width="0.35">3.5</text>
<line x1="65.00" y1="541.89" x2="68.60" y2="541.89" stroke="#000" stroke-width="1.4" stroke-linecap="butt"/>
<line x1="63.20" y1="533.10" x2="68.60" y2="533.10" stroke="#000" stroke-width="1.5" stroke-linecap="butt"/>
<text x="61.30" y="535.90" font-family="Liberation Sans" font-size="7.80" font-weight="normal" font-style="normal" text-anchor="end" fill="#222" textLength="16.70" lengthAdjust="spacingAndGlyphs" stroke="#222" stroke-width="0.35">4.0</text>
<line x1="68.20" y1="673.70" x2="68.20" y2="677.40" stroke="#000" stroke-width="1.6" stroke-linecap="butt"/>
<text x="68.20" y="684.30" font-family="Liberation Sans" font-size="7.80" font-weight="normal" font-style="normal" text-anchor="middle" fill="#222" textLength="14.50" lengthAdjust="spacingAndGlyphs" stroke="#222" stroke-width="0.35">0.6</text>
<line x1="110.20" y1="673.70" x2="110.20" y2="677.40" stroke="#000" stroke-width="1.6" stroke-linecap="butt"/>
<text x="110.20" y="684.30" font-family="Liberation Sans" font-size="7.80" font-weight="normal" font-style="normal" text-anchor="middle" fill="#222" textLength="14.50" lengthAdjust="spacingAndGlyphs" stroke="#222" stroke-width="0.35">0.4</text>
<line x1="152.20" y1="673.70" x2="152.20" y2="677.40" stroke="#000" stroke-width="1.6" stroke-linecap="butt"/>
<text x="152.20" y="684.30" font-family="Liberation Sans" font-size="7.80" font-weight="normal" font-style="normal" text-anchor="middle" fill="#222" textLength="14.50" lengthAdjust="spacingAndGlyphs" stroke="#222" stroke-width="0.35">0.2</text>
<line x1="194.20" y1="673.70" x2="194.20" y2="677.40" stroke="#000" stroke-width="1.6" stroke-linecap="butt"/>
<text x="194.20" y="684.30" font-family="Liberation Sans" font-size="7.80" font-weight="normal" font-style="normal" text-anchor="middle" fill="#222" textLength="14.50" lengthAdjust="spacingAndGlyphs" stroke="#222" stroke-width="0.35">0.0</text>
<line x1="236.20" y1="673.70" x2="236.20" y2="677.40" stroke="#000" stroke-width="1.6" stroke-linecap="butt"/>
<text x="236.20" y="684.30" font-family="Liberation Sans" font-size="7.80" font-weight="normal" font-style="normal" text-anchor="middle" fill="#222" textLength="14.50" lengthAdjust="spacingAndGlyphs" stroke="#222" stroke-width="0.35">0.2</text>
<line x1="278.20" y1="673.70" x2="278.20" y2="677.40" stroke="#000" stroke-width="1.6" stroke-linecap="butt"/>
<text x="278.20" y="684.30" font-family="Liberation Sans" font-size="7.80" font-weight="normal" font-style="normal" text-anchor="middle" fill="#222" textLength="14.50" lengthAdjust="spacingAndGlyphs" stroke="#222" stroke-width="0.35">0.4</text>
<line x1="320.20" y1="673.70" x2="320.20" y2="677.40" stroke="#000" stroke-width="1.6" stroke-linecap="butt"/>
<text x="320.20" y="684.30" font-family="Liberation Sans" font-size="7.80" font-weight="normal" font-style="normal" text-anchor="middle" fill="#222" textLength="14.50" lengthAdjust="spacingAndGlyphs" stroke="#222" stroke-width="0.35">0.6</text>
<line x1="89.20" y1="673.70" x2="89.20" y2="675.80" stroke="#000" stroke-width="1.4" stroke-linecap="butt"/>
<line x1="131.20" y1="673.70" x2="131.20" y2="675.80" stroke="#000" stroke-width="1.4" stroke-linecap="butt"/>
<line x1="173.20" y1="673.70" x2="173.20" y2="675.80" stroke="#000" stroke-width="1.4" stroke-linecap="butt"/>
<line x1="215.20" y1="673.70" x2="215.20" y2="675.80" stroke="#000" stroke-width="1.4" stroke-linecap="butt"/>
<line x1="257.20" y1="673.70" x2="257.20" y2="675.80" stroke="#000" stroke-width="1.4" stroke-linecap="butt"/>
<line x1="299.20" y1="673.70" x2="299.20" y2="675.80" stroke="#000" stroke-width="1.4" stroke-linecap="butt"/>
<text x="205.40" y="696.60" font-family="Liberation Sans" font-size="8.00" font-weight="bold" font-style="normal" text-anchor="middle" fill="#222" textLength="17.50" lengthAdjust="spacingAndGlyphs" >E/V</text>
<g transform="translate(28.6,604) rotate(-90)">
<text x="0.00" y="0.00" font-family="Liberation Sans" font-size="10.50" font-weight="bold" font-style="normal" text-anchor="middle" fill="#222" textLength="13.50" lengthAdjust="spacingAndGlyphs" stroke="#222" stroke-width="0.3">I/uA</text>
</g>
<text x="190.60" y="542.50" font-family="Liberation Sans" font-size="12.00" font-weight="bold" font-style="normal" text-anchor="start" fill="#111" textLength="10.90" lengthAdjust="spacingAndGlyphs" >f)</text>
<text x="214.90" y="545.40" font-family="Liberation Sans" font-size="10.50" font-weight="bold" font-style="normal" text-anchor="start" fill="#111" textLength="12.30" lengthAdjust="spacingAndGlyphs" >e)</text>
<text x="220.10" y="557.10" font-family="Liberation Sans" font-size="10.50" font-weight="bold" font-style="normal" text-anchor="start" fill="#111" textLength="14.10" lengthAdjust="spacingAndGlyphs" >d)</text>
<text x="214.90" y="571.10" font-family="Liberation Sans" font-size="10.50" font-weight="bold" font-style="normal" text-anchor="start" fill="#111" textLength="14.00" lengthAdjust="spacingAndGlyphs" >c)</text>
<text x="165.30" y="582.80" font-family="Liberation Sans" font-size="11.50" font-weight="bold" font-style="normal" text-anchor="start" fill="#111" textLength="9.30" lengthAdjust="spacingAndGlyphs" >b</text>
<text x="218.40" y="602.10" font-family="Liberation Sans" font-size="10.50" font-weight="bold" font-style="normal" text-anchor="start" fill="#111" textLength="13.40" lengthAdjust="spacingAndGlyphs" >a)</text>
<line x1="199.70" y1="551.30" x2="209.00" y2="548.40" stroke="#222" stroke-width="1.2" stroke-linecap="butt"/>
<line x1="202.60" y1="559.50" x2="212.00" y2="557.70" stroke="#222" stroke-width="1.2" stroke-linecap="butt"/>
<line x1="203.20" y1="565.30" x2="212.00" y2="564.10" stroke="#222" stroke-width="1.2" stroke-linecap="butt"/>
<line x1="172.80" y1="575.50" x2="185.10" y2="574.00" stroke="#222" stroke-width="1.2" stroke-linecap="butt"/>
<line x1="212.60" y1="595.70" x2="218.40" y2="596.20" stroke="#222" stroke-width="1.2" stroke-linecap="butt"/>
<text x="450.70" y="530.40" font-family="Liberation Sans" font-size="14.80" font-weight="bold" font-style="normal" text-anchor="start" fill="#111" textLength="11.60" lengthAdjust="spacingAndGlyphs" >F)</text>
<rect x="432.4" y="547.2" width="217.6" height="124.4" fill="none" stroke="#2f3d62" stroke-width="1.5"/>
<line x1="429.80" y1="671.60" x2="432.40" y2="671.60" stroke="#2f3d62" stroke-width="1.2" stroke-linecap="butt"/>
<text x="428.20" y="673.80" font-family="Liberation Sans" font-size="6.20" font-weight="bold" font-style="normal" text-anchor="end" fill="#2f3d62" textLength="3.40" lengthAdjust="spacingAndGlyphs" stroke="#2f3d62" stroke-width="0.3">0</text>
<line x1="429.80" y1="650.87" x2="432.40" y2="650.87" stroke="#2f3d62" stroke-width="1.2" stroke-linecap="butt"/>
<text x="428.20" y="653.07" font-family="Liberation Sans" font-size="6.20" font-weight="bold" font-style="normal" text-anchor="end" fill="#2f3d62" textLength="6.80" lengthAdjust="spacingAndGlyphs" stroke="#2f3d62" stroke-width="0.3">20</text>
<line x1="429.80" y1="630.14" x2="432.40" y2="630.14" stroke="#2f3d62" stroke-width="1.2" stroke-linecap="butt"/>
<text x="428.20" y="632.34" font-family="Liberation Sans" font-size="6.20" font-weight="bold" font-style="normal" text-anchor="end" fill="#2f3d62" textLength="6.80" lengthAdjust="spacingAndGlyphs" stroke="#2f3d62" stroke-width="0.3">40</text>
<line x1="429.80" y1="609.41" x2="432.40" y2="609.41" stroke="#2f3d62" stroke-width="1.2" stroke-linecap="butt"/>
<text x="428.20" y="611.61" font-family="Liberation Sans" font-size="6.20" font-weight="bold" font-style="normal" text-anchor="end" fill="#2f3d62" textLength="6.80" lengthAdjust="spacingAndGlyphs" stroke="#2f3d62" stroke-width="0.3">60</text>
<line x1="429.80" y1="588.68" x2="432.40" y2="588.68" stroke="#2f3d62" stroke-width="1.2" stroke-linecap="butt"/>
<text x="428.20" y="590.88" font-family="Liberation Sans" font-size="6.20" font-weight="bold" font-style="normal" text-anchor="end" fill="#2f3d62" textLength="6.80" lengthAdjust="spacingAndGlyphs" stroke="#2f3d62" stroke-width="0.3">80</text>
<line x1="429.80" y1="567.95" x2="432.40" y2="567.95" stroke="#2f3d62" stroke-width="1.2" stroke-linecap="butt"/>
<text x="428.20" y="570.15" font-family="Liberation Sans" font-size="6.20" font-weight="bold" font-style="normal" text-anchor="end" fill="#2f3d62" textLength="10.20" lengthAdjust="spacingAndGlyphs" stroke="#2f3d62" stroke-width="0.3">100</text>
<line x1="429.80" y1="547.22" x2="432.40" y2="547.22" stroke="#2f3d62" stroke-width="1.2" stroke-linecap="butt"/>
<text x="428.20" y="549.42" font-family="Liberation Sans" font-size="6.20" font-weight="bold" font-style="normal" text-anchor="end" fill="#2f3d62" textLength="10.20" lengthAdjust="spacingAndGlyphs" stroke="#2f3d62" stroke-width="0.3">120</text>
<line x1="432.30" y1="671.60" x2="432.30" y2="673.80" stroke="#2f3d62" stroke-width="1.2" stroke-linecap="butt"/>
<text x="432.30" y="681.00" font-family="Liberation Sans" font-size="6.00" font-weight="bold" font-style="normal" text-anchor="middle" fill="#2f3d62" textLength="6.80" lengthAdjust="spacingAndGlyphs" stroke="#2f3d62" stroke-width="0.3">-1</text>
<line x1="463.35" y1="671.60" x2="463.35" y2="673.80" stroke="#2f3d62" stroke-width="1.2" stroke-linecap="butt"/>
<text x="463.35" y="681.00" font-family="Liberation Sans" font-size="6.00" font-weight="bold" font-style="normal" text-anchor="middle" fill="#2f3d62" textLength="3.40" lengthAdjust="spacingAndGlyphs" stroke="#2f3d62" stroke-width="0.3">0</text>
<line x1="494.40" y1="671.60" x2="494.40" y2="673.80" stroke="#2f3d62" stroke-width="1.2" stroke-linecap="butt"/>
<text x="494.40" y="681.00" font-family="Liberation Sans" font-size="6.00" font-weight="bold" font-style="normal" text-anchor="middle" fill="#2f3d62" textLength="3.40" lengthAdjust="spacingAndGlyphs" stroke="#2f3d62" stroke-width="0.3">1</text>
<line x1="525.45" y1="671.60" x2="525.45" y2="673.80" stroke="#2f3d62" stroke-width="1.2" stroke-linecap="butt"/>
<text x="525.45" y="681.00" font-family="Liberation Sans" font-size="6.00" font-weight="bold" font-style="normal" text-anchor="middle" fill="#2f3d62" textLength="3.40" lengthAdjust="spacingAndGlyphs" stroke="#2f3d62" stroke-width="0.3">2</text>
<line x1="556.50" y1="671.60" x2="556.50" y2="673.80" stroke="#2f3d62" stroke-width="1.2" stroke-linecap="butt"/>
<text x="556.50" y="681.00" font-family="Liberation Sans" font-size="6.00" font-weight="bold" font-style="normal" text-anchor="middle" fill="#2f3d62" textLength="3.40" lengthAdjust="spacingAndGlyphs" stroke="#2f3d62" stroke-width="0.3">3</text>
<line x1="587.55" y1="671.60" x2="587.55" y2="673.80" stroke="#2f3d62" stroke-width="1.2" stroke-linecap="butt"/>
<text x="587.55" y="681.00" font-family="Liberation Sans" font-size="6.00" font-weight="bold" font-style="normal" text-anchor="middle" fill="#2f3d62" textLength="3.40" lengthAdjust="spacingAndGlyphs" stroke="#2f3d62" stroke-width="0.3">4</text>
<line x1="618.60" y1="671.60" x2="618.60" y2="673.80" stroke="#2f3d62" stroke-width="1.2" stroke-linecap="butt"/>
<text x="618.60" y="681.00" font-family="Liberation Sans" font-size="6.00" font-weight="bold" font-style="normal" text-anchor="middle" fill="#2f3d62" textLength="3.40" lengthAdjust="spacingAndGlyphs" stroke="#2f3d62" stroke-width="0.3">5</text>
<line x1="649.65" y1="671.60" x2="649.65" y2="673.80" stroke="#2f3d62" stroke-width="1.2" stroke-linecap="butt"/>
<text x="649.65" y="681.00" font-family="Liberation Sans" font-size="6.00" font-weight="bold" font-style="normal" text-anchor="middle" fill="#2f3d62" textLength="3.40" lengthAdjust="spacingAndGlyphs" stroke="#2f3d62" stroke-width="0.3">6</text>
<text x="458.80" y="697.40" font-family="Liberation Sans" font-size="10.80" font-weight="bold" font-style="normal" text-anchor="start" fill="#111" textLength="125.20" lengthAdjust="spacingAndGlyphs" stroke="#111" stroke-width="0.3">Log conentration of mir21</text>
<g transform="translate(412.6,614.3) rotate(-90)">
<text x="0" y="0" font-family="Liberation Sans" font-size="13.5" font-weight="bold" text-anchor="middle" fill="#111" textLength="52.5" lengthAdjust="spacingAndGlyphs"><tspan font-style="italic">i</tspan>/ μA cm<tspan font-size="7.5" dy="-4.5">−2</tspan></text>
</g>
<text x="448.00" y="562.00" font-family="Liberation Sans" font-size="8.90" font-weight="bold" font-style="normal" text-anchor="start" fill="#111" textLength="82.70" lengthAdjust="spacingAndGlyphs" >y = 114.01x + 897.08</text>
<text x="448" y="574.9" font-family="Liberation Sans" font-size="8.9" font-weight="bold" fill="#111" textLength="43.4" lengthAdjust="spacingAndGlyphs"><tspan font-style="italic">R</tspan><tspan font-size="5.5" dy="-3.5">2</tspan><tspan dy="3.5">=</tspan><tspan font-style="italic">0.9377</tspan></text>
<line x1="469.50" y1="620.40" x2="469.50" y2="639.90" stroke="#111" stroke-width="1.2" stroke-linecap="butt"/>
<line x1="467.40" y1="620.40" x2="471.60" y2="620.40" stroke="#111" stroke-width="1.2" stroke-linecap="butt"/>
<line x1="467.40" y1="639.90" x2="471.60" y2="639.90" stroke="#111" stroke-width="1.2" stroke-linecap="butt"/>
<polygon points="469.50,628.50 467.63,632.02 471.37,632.02" fill="#111"/>
<line x1="490.50" y1="605.10" x2="490.50" y2="624.50" stroke="#111" stroke-width="1.2" stroke-linecap="butt"/>
<line x1="488.40" y1="605.10" x2="492.60" y2="605.10" stroke="#111" stroke-width="1.2" stroke-linecap="butt"/>
<line x1="488.40" y1="624.50" x2="492.60" y2="624.50" stroke="#111" stroke-width="1.2" stroke-linecap="butt"/>
<polygon points="490.50,612.50 488.63,616.02 492.37,616.02" fill="#111"/>
<line x1="528.50" y1="609.50" x2="528.50" y2="630.30" stroke="#111" stroke-width="1.2" stroke-linecap="butt"/>
<line x1="526.40" y1="609.50" x2="530.60" y2="609.50" stroke="#111" stroke-width="1.2" stroke-linecap="butt"/>
<line x1="526.40" y1="630.30" x2="530.60" y2="630.30" stroke="#111" stroke-width="1.2" stroke-linecap="butt"/>
<polygon points="528.50,617.80 526.63,621.32 530.37,621.32" fill="#111"/>
<line x1="558.50" y1="594.90" x2="558.50" y2="617.80" stroke="#111" stroke-width="1.2" stroke-linecap="butt"/>
<line x1="556.40" y1="594.90" x2="560.60" y2="594.90" stroke="#111" stroke-width="1.2" stroke-linecap="butt"/>
<line x1="556.40" y1="617.80" x2="560.60" y2="617.80" stroke="#111" stroke-width="1.2" stroke-linecap="butt"/>
<polygon points="558.50,604.80 556.63,608.32 560.37,608.32" fill="#111"/>
<line x1="579.00" y1="584.60" x2="579.00" y2="604.30" stroke="#111" stroke-width="1.2" stroke-linecap="butt"/>
<line x1="576.90" y1="584.60" x2="581.10" y2="584.60" stroke="#111" stroke-width="1.2" stroke-linecap="butt"/>
<line x1="576.90" y1="604.30" x2="581.10" y2="604.30" stroke="#111" stroke-width="1.2" stroke-linecap="butt"/>
<polygon points="579.00,591.30 577.13,594.82 580.87,594.82" fill="#111"/>
<line x1="598.30" y1="568.90" x2="598.30" y2="588.70" stroke="#111" stroke-width="1.2" stroke-linecap="butt"/>
<line x1="596.20" y1="568.90" x2="600.40" y2="568.90" stroke="#111" stroke-width="1.2" stroke-linecap="butt"/>
<line x1="596.20" y1="588.70" x2="600.40" y2="588.70" stroke="#111" stroke-width="1.2" stroke-linecap="butt"/>
<polygon points="598.30,575.80 596.43,579.32 600.17,579.32" fill="#111"/>
<circle cx="469.5" cy="593.4" r="0.7" fill="#999"/>
<line x1="458.20" y1="638.80" x2="617.00" y2="570.10" stroke="#000" stroke-width="4.6" stroke-linecap="round"/>
</svg>
</body></html>
